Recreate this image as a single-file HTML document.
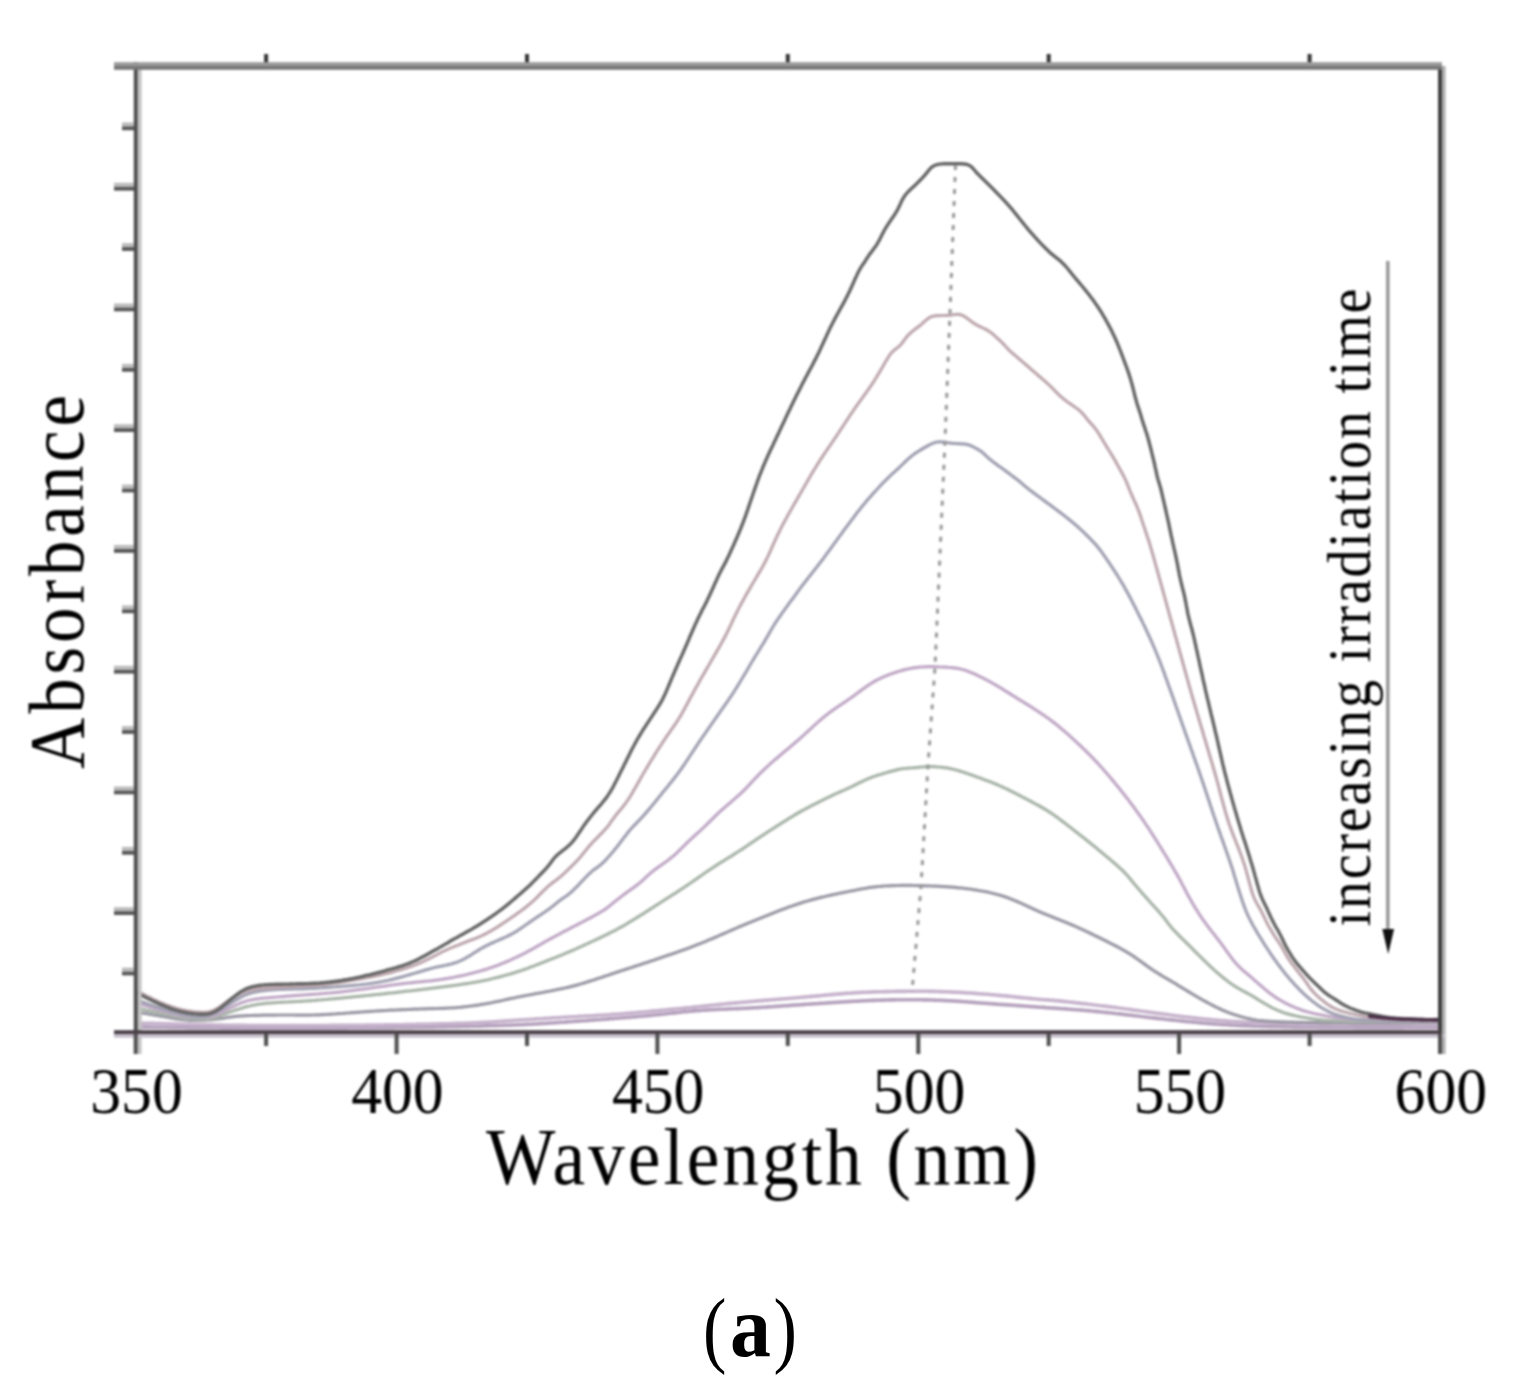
<!DOCTYPE html>
<html><head><meta charset="utf-8"><title>Absorbance spectra</title>
<style>
html,body{margin:0;padding:0;background:#fff;}
body{width:1516px;height:1394px;overflow:hidden;}
svg{display:block;}
#wrap{filter:blur(1px);}
#cap{position:absolute;left:0;top:0;}
text{font-family:"Liberation Serif","Times New Roman",serif;fill:#000;}
</style></head><body>
<div id="wrap"><svg width="1516" height="1394" viewBox="0 0 1516 1394">
<rect width="1516" height="1394" fill="#fff"/>
<path d="M138.8 1027.0 L140.0 1027.0 141.4 1027.0 143.2 1027.1 145.1 1027.1 147.0 1027.1 149.0 1027.1 151.0 1027.2 153.0 1027.2 155.0 1027.2 157.0 1027.2 159.0 1027.2 161.0 1027.3 163.0 1027.3 165.0 1027.3 167.0 1027.3 169.0 1027.4 171.0 1027.4 173.0 1027.4 175.0 1027.4 177.0 1027.5 179.0 1027.5 181.0 1027.5 183.0 1027.5 185.0 1027.5 187.0 1027.6 189.0 1027.6 191.0 1027.6 193.0 1027.6 195.0 1027.6 197.0 1027.7 199.0 1027.7 201.0 1027.7 203.0 1027.7 205.0 1027.7 207.0 1027.8 209.0 1027.8 211.0 1027.8 213.0 1027.8 215.0 1027.8 217.0 1027.8 219.0 1027.8 221.0 1027.9 223.0 1027.9 225.0 1027.9 227.0 1027.9 229.0 1027.9 231.0 1027.9 233.0 1027.9 235.0 1027.9 237.0 1028.0 239.0 1028.0 241.0 1028.0 243.0 1028.0 245.0 1028.0 247.0 1028.0 249.0 1028.0 251.0 1028.0 253.0 1028.0 255.0 1028.0 257.0 1028.0 259.0 1028.0 261.0 1028.0 263.0 1028.0 265.0 1028.0 267.0 1028.0 269.0 1028.0 271.0 1028.0 273.0 1028.0 275.0 1028.0 277.0 1028.0 279.0 1028.0 281.0 1028.0 283.0 1028.0 285.0 1028.0 287.0 1028.0 289.0 1028.0 291.0 1028.0 293.0 1028.0 295.0 1028.0 297.0 1028.0 299.0 1028.0 301.0 1028.0 303.0 1028.0 305.0 1028.0 307.0 1028.0 309.0 1028.0 311.0 1028.0 313.0 1028.0 315.0 1028.0 317.0 1028.0 319.0 1028.0 321.0 1028.0 323.0 1027.9 325.0 1027.9 327.0 1027.9 329.0 1027.9 331.0 1027.9 333.0 1027.9 335.0 1027.9 337.0 1027.9 339.0 1027.9 341.0 1027.9 343.0 1027.9 345.0 1027.9 347.0 1027.9 349.0 1027.8 351.0 1027.8 353.0 1027.8 355.0 1027.8 357.0 1027.8 359.0 1027.8 361.0 1027.8 363.0 1027.8 365.0 1027.8 367.0 1027.8 369.0 1027.7 371.0 1027.7 373.0 1027.7 375.0 1027.7 377.0 1027.7 379.0 1027.7 381.0 1027.7 383.0 1027.6 385.0 1027.6 387.0 1027.6 389.0 1027.6 391.0 1027.6 393.0 1027.6 395.0 1027.5 397.0 1027.5 399.0 1027.5 401.0 1027.5 403.0 1027.5 405.0 1027.4 407.0 1027.4 409.0 1027.4 411.0 1027.4 413.0 1027.4 415.0 1027.3 417.0 1027.3 419.0 1027.3 421.0 1027.3 423.0 1027.2 425.0 1027.2 427.0 1027.2 429.0 1027.1 431.0 1027.1 433.0 1027.1 435.0 1027.0 437.0 1027.0 439.0 1027.0 441.0 1026.9 443.0 1026.9 445.0 1026.9 447.0 1026.8 449.0 1026.8 451.0 1026.8 453.0 1026.7 455.0 1026.7 457.0 1026.6 459.0 1026.6 461.0 1026.5 463.0 1026.5 465.0 1026.5 467.0 1026.4 469.0 1026.4 471.0 1026.3 473.0 1026.3 475.0 1026.2 477.0 1026.2 479.0 1026.1 481.0 1026.1 483.0 1026.0 485.0 1025.9 487.0 1025.9 489.0 1025.8 491.0 1025.8 493.0 1025.7 495.0 1025.7 497.0 1025.6 499.0 1025.5 501.0 1025.5 503.0 1025.4 505.0 1025.3 507.0 1025.3 509.0 1025.2 511.0 1025.1 513.0 1025.0 515.0 1025.0 517.0 1024.9 519.0 1024.8 521.0 1024.7 523.0 1024.6 525.0 1024.5 526.9 1024.4 528.9 1024.3 530.9 1024.2 532.9 1024.1 534.9 1024.0 536.9 1023.9 538.9 1023.7 540.9 1023.6 542.9 1023.5 544.9 1023.4 546.9 1023.2 548.9 1023.1 550.9 1023.0 552.9 1022.9 554.9 1022.7 556.9 1022.6 558.9 1022.5 560.9 1022.3 562.9 1022.2 564.9 1022.1 566.9 1021.9 568.9 1021.8 570.9 1021.7 572.9 1021.5 574.9 1021.4 576.8 1021.3 578.8 1021.1 580.8 1021.0 582.8 1020.8 584.8 1020.7 586.8 1020.6 588.8 1020.4 590.8 1020.3 592.8 1020.1 594.8 1020.0 596.8 1019.8 598.8 1019.7 600.8 1019.5 602.8 1019.4 604.8 1019.2 606.8 1019.1 608.8 1018.9 610.8 1018.8 612.8 1018.6 614.7 1018.5 616.7 1018.3 618.7 1018.2 620.7 1018.0 622.7 1017.8 624.7 1017.7 626.7 1017.5 628.7 1017.4 630.7 1017.2 632.7 1017.0 634.7 1016.9 636.7 1016.7 638.7 1016.5 640.7 1016.3 642.7 1016.2 644.6 1016.0 646.6 1015.8 648.6 1015.6 650.6 1015.4 652.6 1015.2 654.6 1015.0 656.6 1014.8 658.6 1014.6 660.6 1014.4 662.6 1014.2 664.5 1014.0 666.5 1013.7 668.5 1013.5 670.5 1013.3 672.5 1013.1 674.5 1012.9 676.5 1012.7 678.5 1012.5 680.4 1012.3 682.4 1012.0 684.4 1011.8 686.4 1011.7 688.4 1011.5 690.4 1011.3 692.4 1011.1 694.4 1010.9 696.4 1010.8 698.4 1010.6 700.4 1010.5 702.4 1010.3 704.4 1010.2 706.4 1010.1 708.4 1010.0 710.3 1009.8 712.3 1009.7 714.3 1009.6 716.3 1009.5 718.3 1009.4 720.3 1009.3 722.3 1009.2 724.3 1009.2 726.3 1009.1 728.3 1009.0 730.3 1008.9 732.3 1008.8 734.3 1008.7 736.3 1008.6 738.3 1008.6 740.3 1008.5 742.3 1008.4 744.3 1008.3 746.3 1008.2 748.3 1008.1 750.3 1008.0 752.3 1007.9 754.3 1007.8 756.3 1007.7 758.3 1007.6 760.3 1007.5 762.3 1007.3 764.3 1007.2 766.3 1007.1 768.3 1006.9 770.3 1006.8 772.3 1006.7 774.3 1006.5 776.3 1006.4 778.3 1006.3 780.2 1006.1 782.2 1006.0 784.2 1005.8 786.2 1005.7 788.2 1005.6 790.2 1005.4 792.2 1005.3 794.2 1005.1 796.2 1005.0 798.2 1004.9 800.2 1004.7 802.2 1004.6 804.2 1004.4 806.2 1004.3 808.2 1004.2 810.2 1004.0 812.2 1003.9 814.2 1003.8 816.2 1003.7 818.2 1003.5 820.2 1003.4 822.1 1003.3 824.1 1003.2 826.1 1003.0 828.1 1002.9 830.1 1002.8 832.1 1002.6 834.1 1002.5 836.1 1002.4 838.1 1002.3 840.1 1002.1 842.1 1002.0 844.1 1001.9 846.1 1001.8 848.1 1001.6 850.1 1001.5 852.1 1001.4 854.1 1001.3 856.1 1001.2 858.1 1001.1 860.1 1001.0 862.1 1000.9 864.1 1000.8 866.1 1000.7 868.1 1000.6 870.1 1000.5 872.1 1000.4 874.1 1000.4 876.1 1000.3 878.1 1000.2 880.1 1000.2 882.1 1000.1 884.1 1000.1 886.1 1000.0 888.1 1000.0 890.1 999.9 892.1 999.9 894.1 999.9 896.1 999.8 898.1 999.8 900.1 999.8 902.1 999.8 904.1 999.8 906.1 999.8 908.1 999.7 910.1 999.7 912.1 999.8 914.1 999.8 916.1 999.8 918.1 999.8 920.1 999.8 922.1 999.8 924.1 999.9 926.1 999.9 928.1 999.9 930.1 1000.0 932.1 1000.0 934.1 1000.1 936.1 1000.2 938.1 1000.2 940.1 1000.3 942.0 1000.4 944.0 1000.5 946.0 1000.6 948.0 1000.7 950.0 1000.8 952.0 1000.9 954.0 1001.0 956.0 1001.1 958.0 1001.3 960.0 1001.4 962.0 1001.5 964.0 1001.7 966.0 1001.8 968.0 1002.0 970.0 1002.1 972.0 1002.2 974.0 1002.4 976.0 1002.6 978.0 1002.7 980.0 1002.9 982.0 1003.0 984.0 1003.2 985.9 1003.3 987.9 1003.5 989.9 1003.6 991.9 1003.8 993.9 1003.9 995.9 1004.1 997.9 1004.2 999.9 1004.4 1001.9 1004.5 1003.9 1004.6 1005.9 1004.8 1007.9 1004.9 1009.9 1005.0 1011.9 1005.2 1013.9 1005.3 1015.9 1005.5 1017.9 1005.6 1019.9 1005.8 1021.9 1005.9 1023.8 1006.0 1025.8 1006.2 1027.8 1006.3 1029.8 1006.5 1031.8 1006.6 1033.8 1006.8 1035.8 1006.9 1037.8 1007.0 1039.8 1007.2 1041.8 1007.3 1043.8 1007.4 1045.8 1007.6 1047.8 1007.7 1049.8 1007.9 1051.8 1008.0 1053.8 1008.1 1055.8 1008.3 1057.8 1008.4 1059.8 1008.5 1061.8 1008.7 1063.8 1008.8 1065.7 1008.9 1067.7 1009.1 1069.7 1009.2 1071.7 1009.4 1073.7 1009.5 1075.7 1009.7 1077.7 1009.8 1079.7 1010.0 1081.7 1010.1 1083.7 1010.3 1085.7 1010.5 1087.7 1010.6 1089.7 1010.8 1091.7 1011.0 1093.7 1011.2 1095.6 1011.4 1097.6 1011.6 1099.6 1011.8 1101.6 1012.0 1103.6 1012.2 1105.6 1012.4 1107.6 1012.6 1109.6 1012.8 1111.6 1013.0 1113.6 1013.2 1115.5 1013.5 1117.5 1013.7 1119.5 1013.9 1121.5 1014.1 1123.5 1014.4 1125.5 1014.6 1127.5 1014.9 1129.4 1015.1 1131.4 1015.3 1133.4 1015.6 1135.4 1015.8 1137.4 1016.0 1139.4 1016.3 1141.4 1016.5 1143.3 1016.8 1145.3 1017.0 1147.3 1017.2 1149.3 1017.5 1151.3 1017.7 1153.3 1017.9 1155.3 1018.1 1157.3 1018.4 1159.2 1018.6 1161.2 1018.8 1163.2 1019.0 1165.2 1019.2 1167.2 1019.5 1169.2 1019.7 1171.2 1019.9 1173.2 1020.1 1175.1 1020.3 1177.1 1020.5 1179.1 1020.7 1181.1 1020.9 1183.1 1021.1 1185.1 1021.4 1187.1 1021.6 1189.1 1021.8 1191.1 1022.0 1193.1 1022.1 1195.0 1022.3 1197.0 1022.5 1199.0 1022.7 1201.0 1022.9 1203.0 1023.1 1205.0 1023.2 1207.0 1023.4 1209.0 1023.6 1211.0 1023.7 1213.0 1023.9 1215.0 1024.0 1217.0 1024.2 1219.0 1024.3 1221.0 1024.5 1223.0 1024.6 1224.9 1024.7 1226.9 1024.8 1228.9 1025.0 1230.9 1025.1 1232.9 1025.2 1234.9 1025.3 1236.9 1025.4 1238.9 1025.5 1240.9 1025.6 1242.9 1025.7 1244.9 1025.8 1246.9 1025.9 1248.9 1025.9 1250.9 1026.0 1252.9 1026.1 1254.9 1026.2 1256.9 1026.2 1258.9 1026.3 1260.9 1026.4 1262.9 1026.4 1264.9 1026.5 1266.9 1026.5 1268.9 1026.6 1270.9 1026.6 1272.9 1026.7 1274.9 1026.7 1276.9 1026.8 1278.9 1026.8 1280.9 1026.8 1282.9 1026.9 1284.9 1026.9 1286.9 1027.0 1288.9 1027.0 1290.9 1027.0 1292.9 1027.1 1294.9 1027.1 1296.9 1027.1 1298.9 1027.1 1300.9 1027.2 1302.9 1027.2 1304.9 1027.2 1306.9 1027.2 1308.9 1027.3 1310.9 1027.3 1312.9 1027.3 1314.9 1027.3 1316.9 1027.3 1318.9 1027.4 1320.9 1027.4 1322.9 1027.4 1324.9 1027.4 1326.9 1027.4 1328.9 1027.4 1330.9 1027.4 1332.9 1027.5 1334.9 1027.5 1336.9 1027.5 1338.9 1027.5 1340.9 1027.5 1342.9 1027.5 1344.9 1027.5 1346.9 1027.5 1348.9 1027.5 1350.9 1027.5 1352.9 1027.5 1354.9 1027.6 1356.9 1027.6 1358.9 1027.6 1360.9 1027.6 1362.9 1027.6 1364.9 1027.6 1366.9 1027.6 1368.9 1027.6 1370.9 1027.6 1372.9 1027.6 1374.9 1027.6 1376.9 1027.6 1378.9 1027.6 1380.9 1027.6 1382.9 1027.6 1384.9 1027.6 1386.9 1027.6 1388.9 1027.6 1390.9 1027.6 1392.9 1027.6 1394.9 1027.6 1396.9 1027.6 1398.9 1027.6 1400.9 1027.6 1402.9 1027.6 1404.9 1027.5 1406.9 1027.5 1408.9 1027.5 1410.9 1027.5 1412.9 1027.5 1414.9 1027.5 1416.9 1027.5 1418.9 1027.5 1420.9 1027.5 1422.9 1027.5 1424.9 1027.5 1426.9 1027.5 1428.9 1027.5 1430.8 1027.5 1432.7 1027.5 1434.4 1027.5 1435.9 1027.5 1437.1 1027.5" fill="none" stroke="#b4a0bc" stroke-width="3.6" stroke-linejoin="round" stroke-linecap="round"/>
<path d="M138.8 1023.0 L140.0 1023.1 141.4 1023.1 143.2 1023.2 145.1 1023.2 147.0 1023.3 149.0 1023.3 151.0 1023.4 153.0 1023.4 155.0 1023.5 157.0 1023.5 159.0 1023.6 161.0 1023.6 163.0 1023.7 165.0 1023.7 167.0 1023.8 169.0 1023.8 171.0 1023.9 173.0 1024.0 175.0 1024.0 177.0 1024.1 179.0 1024.1 181.0 1024.2 183.0 1024.2 185.0 1024.3 187.0 1024.3 189.0 1024.4 191.0 1024.4 193.0 1024.5 195.0 1024.5 197.0 1024.6 199.0 1024.6 201.0 1024.7 203.0 1024.7 205.0 1024.8 207.0 1024.8 209.0 1024.8 211.0 1024.9 213.0 1024.9 215.0 1025.0 217.0 1025.0 219.0 1025.0 221.0 1025.1 223.0 1025.1 225.0 1025.2 227.0 1025.2 229.0 1025.2 231.0 1025.3 233.0 1025.3 235.0 1025.3 237.0 1025.3 239.0 1025.4 241.0 1025.4 243.0 1025.4 245.0 1025.4 247.0 1025.5 249.0 1025.5 251.0 1025.5 253.0 1025.5 255.0 1025.5 257.0 1025.5 259.0 1025.6 261.0 1025.6 263.0 1025.6 265.0 1025.6 267.0 1025.6 269.0 1025.6 271.0 1025.6 273.0 1025.6 275.0 1025.6 277.0 1025.6 279.0 1025.6 281.0 1025.6 283.0 1025.6 285.0 1025.6 287.0 1025.6 289.0 1025.6 291.0 1025.6 293.0 1025.6 295.0 1025.6 297.0 1025.6 299.0 1025.6 301.0 1025.6 303.0 1025.6 305.0 1025.6 307.0 1025.6 309.0 1025.6 311.0 1025.6 313.0 1025.5 315.0 1025.5 317.0 1025.5 319.0 1025.5 321.0 1025.5 323.0 1025.5 325.0 1025.5 327.0 1025.5 329.0 1025.5 331.0 1025.4 333.0 1025.4 335.0 1025.4 337.0 1025.4 339.0 1025.4 341.0 1025.4 343.0 1025.4 345.0 1025.3 347.0 1025.3 349.0 1025.3 351.0 1025.3 353.0 1025.3 355.0 1025.3 357.0 1025.2 359.0 1025.2 361.0 1025.2 363.0 1025.2 365.0 1025.2 367.0 1025.1 369.0 1025.1 371.0 1025.1 373.0 1025.1 375.0 1025.1 377.0 1025.0 379.0 1025.0 381.0 1025.0 383.0 1025.0 385.0 1024.9 387.0 1024.9 389.0 1024.9 391.0 1024.9 393.0 1024.8 395.0 1024.8 397.0 1024.8 399.0 1024.7 401.0 1024.7 403.0 1024.7 405.0 1024.6 407.0 1024.6 409.0 1024.6 411.0 1024.5 413.0 1024.5 415.0 1024.5 417.0 1024.4 419.0 1024.4 421.0 1024.4 423.0 1024.3 425.0 1024.3 427.0 1024.2 429.0 1024.2 431.0 1024.1 433.0 1024.1 435.0 1024.0 437.0 1024.0 439.0 1023.9 441.0 1023.9 443.0 1023.8 445.0 1023.8 447.0 1023.7 449.0 1023.7 451.0 1023.6 453.0 1023.6 455.0 1023.5 457.0 1023.4 458.9 1023.4 460.9 1023.3 462.9 1023.2 464.9 1023.2 466.9 1023.1 468.9 1023.0 470.9 1023.0 472.9 1022.9 474.9 1022.8 476.9 1022.7 478.9 1022.6 480.9 1022.5 482.9 1022.4 484.9 1022.3 486.9 1022.2 488.9 1022.1 490.9 1022.0 492.9 1021.9 494.9 1021.7 496.9 1021.6 498.9 1021.5 500.9 1021.3 502.9 1021.2 504.9 1021.0 506.9 1020.9 508.9 1020.8 510.9 1020.6 512.9 1020.5 514.9 1020.3 516.9 1020.2 518.9 1020.1 520.8 1020.0 522.8 1019.8 524.8 1019.7 526.8 1019.6 528.8 1019.5 530.8 1019.3 532.8 1019.2 534.8 1019.1 536.8 1018.9 538.8 1018.8 540.8 1018.7 542.8 1018.6 544.8 1018.4 546.8 1018.3 548.8 1018.2 550.8 1018.1 552.8 1017.9 554.8 1017.8 556.8 1017.7 558.8 1017.6 560.8 1017.5 562.8 1017.3 564.8 1017.2 566.8 1017.1 568.8 1017.0 570.8 1016.9 572.8 1016.8 574.7 1016.7 576.7 1016.6 578.7 1016.4 580.7 1016.3 582.7 1016.2 584.7 1016.1 586.7 1016.0 588.7 1015.9 590.7 1015.8 592.7 1015.7 594.7 1015.6 596.7 1015.4 598.7 1015.3 600.7 1015.2 602.7 1015.1 604.7 1015.0 606.7 1014.8 608.7 1014.7 610.7 1014.6 612.7 1014.4 614.7 1014.3 616.7 1014.2 618.7 1014.0 620.7 1013.9 622.7 1013.7 624.7 1013.6 626.6 1013.4 628.6 1013.2 630.6 1013.1 632.6 1012.9 634.6 1012.7 636.6 1012.6 638.6 1012.4 640.6 1012.2 642.6 1012.0 644.6 1011.9 646.6 1011.7 648.6 1011.5 650.6 1011.3 652.5 1011.1 654.5 1010.9 656.5 1010.7 658.5 1010.6 660.5 1010.4 662.5 1010.2 664.5 1010.0 666.5 1009.8 668.5 1009.6 670.5 1009.4 672.5 1009.2 674.4 1009.0 676.4 1008.8 678.4 1008.7 680.4 1008.5 682.4 1008.3 684.4 1008.1 686.4 1007.9 688.4 1007.7 690.4 1007.5 692.4 1007.3 694.3 1007.1 696.3 1006.9 698.3 1006.7 700.3 1006.5 702.3 1006.3 704.3 1006.1 706.3 1005.9 708.3 1005.7 710.3 1005.4 712.3 1005.2 714.2 1005.0 716.2 1004.8 718.2 1004.6 720.2 1004.4 722.2 1004.2 724.2 1004.0 726.2 1003.8 728.2 1003.6 730.2 1003.4 732.2 1003.3 734.1 1003.1 736.1 1002.9 738.1 1002.7 740.1 1002.5 742.1 1002.3 744.1 1002.2 746.1 1002.0 748.1 1001.8 750.1 1001.6 752.1 1001.5 754.1 1001.3 756.1 1001.1 758.1 1000.9 760.0 1000.8 762.0 1000.6 764.0 1000.4 766.0 1000.3 768.0 1000.1 770.0 1000.0 772.0 999.8 774.0 999.6 776.0 999.5 778.0 999.3 780.0 999.1 782.0 999.0 784.0 998.8 786.0 998.7 788.0 998.5 789.9 998.3 791.9 998.2 793.9 998.0 795.9 997.8 797.9 997.7 799.9 997.5 801.9 997.3 803.9 997.1 805.9 997.0 807.9 996.8 809.9 996.6 811.9 996.4 813.9 996.2 815.8 996.1 817.8 995.9 819.8 995.7 821.8 995.5 823.8 995.3 825.8 995.1 827.8 995.0 829.8 994.8 831.8 994.6 833.8 994.4 835.8 994.3 837.8 994.1 839.8 993.9 841.7 993.8 843.7 993.6 845.7 993.4 847.7 993.3 849.7 993.2 851.7 993.0 853.7 992.9 855.7 992.8 857.7 992.6 859.7 992.5 861.7 992.4 863.7 992.3 865.7 992.2 867.7 992.2 869.7 992.1 871.7 992.0 873.7 991.9 875.7 991.9 877.7 991.8 879.7 991.8 881.7 991.7 883.7 991.7 885.7 991.6 887.7 991.6 889.7 991.5 891.7 991.5 893.7 991.5 895.7 991.4 897.7 991.4 899.7 991.4 901.7 991.4 903.7 991.4 905.7 991.4 907.7 991.3 909.7 991.3 911.7 991.3 913.7 991.3 915.7 991.3 917.7 991.3 919.7 991.3 921.7 991.3 923.7 991.3 925.7 991.3 927.7 991.3 929.7 991.4 931.7 991.4 933.7 991.4 935.7 991.5 937.7 991.5 939.7 991.6 941.7 991.6 943.7 991.7 945.7 991.8 947.7 991.8 949.7 991.9 951.7 992.0 953.7 992.1 955.7 992.2 957.7 992.3 959.7 992.4 961.7 992.5 963.7 992.6 965.7 992.7 967.6 992.9 969.6 993.0 971.6 993.1 973.6 993.3 975.6 993.4 977.6 993.6 979.6 993.7 981.6 993.9 983.6 994.0 985.6 994.2 987.6 994.3 989.6 994.5 991.6 994.7 993.6 994.8 995.6 995.0 997.6 995.2 999.5 995.4 1001.5 995.6 1003.5 995.7 1005.5 995.9 1007.5 996.1 1009.5 996.3 1011.5 996.5 1013.5 996.7 1015.5 996.9 1017.5 997.2 1019.4 997.4 1021.4 997.6 1023.4 997.8 1025.4 998.0 1027.4 998.2 1029.4 998.4 1031.4 998.6 1033.4 998.8 1035.4 999.0 1037.4 999.2 1039.3 999.4 1041.3 999.5 1043.3 999.7 1045.3 999.8 1047.3 999.9 1049.3 1000.1 1051.3 1000.2 1053.3 1000.4 1055.3 1000.6 1057.3 1000.8 1059.3 1000.9 1061.3 1001.1 1063.3 1001.4 1065.2 1001.6 1067.2 1001.8 1069.2 1002.0 1071.2 1002.2 1073.2 1002.4 1075.2 1002.7 1077.2 1002.9 1079.2 1003.1 1081.1 1003.4 1083.1 1003.6 1085.1 1003.8 1087.1 1004.0 1089.1 1004.3 1091.1 1004.5 1093.1 1004.7 1095.1 1005.0 1097.0 1005.2 1099.0 1005.5 1101.0 1005.7 1103.0 1005.9 1105.0 1006.2 1107.0 1006.4 1108.9 1006.7 1110.9 1006.9 1112.9 1007.2 1114.9 1007.4 1116.9 1007.7 1118.9 1008.0 1120.8 1008.2 1122.8 1008.5 1124.8 1008.8 1126.8 1009.0 1128.8 1009.3 1130.8 1009.6 1132.7 1009.9 1134.7 1010.2 1136.7 1010.4 1138.7 1010.7 1140.7 1011.0 1142.6 1011.3 1144.6 1011.5 1146.6 1011.8 1148.6 1012.1 1150.6 1012.4 1152.5 1012.6 1154.5 1012.9 1156.5 1013.2 1158.5 1013.4 1160.5 1013.7 1162.5 1013.9 1164.4 1014.2 1166.4 1014.4 1168.4 1014.7 1170.4 1015.0 1172.4 1015.2 1174.4 1015.5 1176.3 1015.7 1178.3 1016.0 1180.3 1016.2 1182.3 1016.5 1184.3 1016.7 1186.3 1017.0 1188.3 1017.2 1190.2 1017.4 1192.2 1017.7 1194.2 1017.9 1196.2 1018.1 1198.2 1018.4 1200.2 1018.6 1202.2 1018.8 1204.2 1019.0 1206.1 1019.2 1208.1 1019.4 1210.1 1019.6 1212.1 1019.8 1214.1 1020.0 1216.1 1020.1 1218.1 1020.3 1220.1 1020.5 1222.1 1020.6 1224.1 1020.8 1226.1 1020.9 1228.1 1021.1 1230.1 1021.2 1232.0 1021.4 1234.0 1021.5 1236.0 1021.6 1238.0 1021.8 1240.0 1021.9 1242.0 1022.0 1244.0 1022.1 1246.0 1022.2 1248.0 1022.3 1250.0 1022.4 1252.0 1022.5 1254.0 1022.6 1256.0 1022.6 1258.0 1022.7 1260.0 1022.8 1262.0 1022.9 1264.0 1022.9 1266.0 1023.0 1268.0 1023.1 1270.0 1023.1 1272.0 1023.2 1274.0 1023.2 1276.0 1023.3 1278.0 1023.3 1280.0 1023.4 1282.0 1023.4 1284.0 1023.4 1286.0 1023.5 1288.0 1023.5 1290.0 1023.5 1292.0 1023.6 1294.0 1023.6 1296.0 1023.6 1298.0 1023.7 1300.0 1023.7 1302.0 1023.7 1304.0 1023.7 1306.0 1023.8 1308.0 1023.8 1310.0 1023.8 1312.0 1023.8 1314.0 1023.8 1316.0 1023.8 1318.0 1023.9 1320.0 1023.9 1322.0 1023.9 1324.0 1023.9 1326.0 1023.9 1328.0 1023.9 1330.0 1023.9 1332.0 1024.0 1334.0 1024.0 1336.0 1024.0 1338.0 1024.0 1340.0 1024.0 1342.0 1024.0 1344.0 1024.0 1346.0 1024.0 1348.0 1024.0 1350.0 1024.0 1352.0 1024.0 1354.0 1024.1 1356.0 1024.1 1358.0 1024.1 1360.0 1024.1 1362.0 1024.1 1364.0 1024.1 1366.0 1024.1 1368.0 1024.1 1370.0 1024.1 1372.0 1024.1 1374.0 1024.1 1376.0 1024.1 1378.0 1024.1 1380.0 1024.1 1382.0 1024.1 1384.0 1024.1 1386.0 1024.1 1388.0 1024.1 1390.0 1024.1 1392.0 1024.1 1394.0 1024.1 1396.0 1024.1 1398.0 1024.1 1400.0 1024.1 1402.0 1024.1 1404.0 1024.0 1406.0 1024.0 1408.0 1024.0 1410.0 1024.0 1412.0 1024.0 1414.0 1024.0 1416.0 1024.0 1418.0 1024.0 1420.0 1024.0 1422.0 1024.0 1424.0 1024.0 1426.0 1024.0 1428.0 1024.0 1430.0 1024.0 1431.9 1024.0 1433.7 1024.0 1435.3 1024.0 1436.7 1024.0 1437.2 1024.0" fill="none" stroke="#c6b2cc" stroke-width="3.6" stroke-linejoin="round" stroke-linecap="round"/>
<path d="M138.8 1012.3 L139.9 1012.5 141.4 1012.8 143.1 1013.1 144.9 1013.4 146.9 1013.7 148.8 1014.1 150.8 1014.4 152.8 1014.8 154.7 1015.1 156.7 1015.4 158.7 1015.8 160.6 1016.1 162.6 1016.5 164.6 1016.8 166.5 1017.2 168.5 1017.5 170.5 1017.9 172.5 1018.2 174.4 1018.6 176.4 1018.9 178.4 1019.2 180.4 1019.4 182.3 1019.7 184.3 1019.9 186.3 1020.0 188.3 1020.2 190.3 1020.3 192.3 1020.4 194.3 1020.4 196.3 1020.4 198.3 1020.4 200.3 1020.4 202.3 1020.4 204.3 1020.3 206.3 1020.2 208.3 1020.0 210.3 1019.9 212.3 1019.7 214.3 1019.5 216.3 1019.2 218.2 1019.0 220.2 1018.7 222.2 1018.4 224.2 1018.1 226.1 1017.7 228.1 1017.4 230.1 1017.2 232.1 1016.9 234.1 1016.6 236.0 1016.4 238.0 1016.2 240.0 1016.1 242.0 1015.9 244.0 1015.8 246.0 1015.7 248.0 1015.6 250.0 1015.5 252.0 1015.5 254.0 1015.4 256.0 1015.3 258.0 1015.3 260.0 1015.3 262.0 1015.2 264.0 1015.2 266.0 1015.2 268.0 1015.1 270.0 1015.1 272.0 1015.1 274.0 1015.1 276.0 1015.1 278.0 1015.0 280.0 1015.0 282.0 1015.0 284.0 1015.0 286.0 1015.0 288.0 1015.0 290.0 1015.0 292.0 1015.0 294.0 1015.0 296.0 1015.1 298.0 1015.1 300.0 1015.1 302.0 1015.1 304.0 1015.1 306.0 1015.1 308.0 1015.1 310.0 1015.1 312.0 1015.0 314.0 1015.0 316.0 1014.9 318.0 1014.9 320.0 1014.8 322.0 1014.7 324.0 1014.6 326.0 1014.5 328.0 1014.4 330.0 1014.3 332.0 1014.1 334.0 1014.0 336.0 1013.9 338.0 1013.7 340.0 1013.6 342.0 1013.5 344.0 1013.3 345.9 1013.2 347.9 1013.0 349.9 1012.9 351.9 1012.7 353.9 1012.6 355.9 1012.4 357.9 1012.3 359.9 1012.1 361.9 1012.0 363.9 1011.8 365.9 1011.7 367.9 1011.6 369.9 1011.4 371.9 1011.3 373.9 1011.2 375.9 1011.0 377.9 1010.9 379.9 1010.8 381.9 1010.7 383.9 1010.6 385.9 1010.5 387.9 1010.3 389.8 1010.2 391.8 1010.2 393.8 1010.1 395.8 1010.0 397.8 1009.9 399.8 1009.8 401.8 1009.7 403.8 1009.6 405.8 1009.6 407.8 1009.5 409.8 1009.4 411.8 1009.3 413.8 1009.2 415.8 1009.2 417.8 1009.1 419.8 1009.0 421.8 1008.9 423.8 1008.9 425.8 1008.8 427.8 1008.7 429.8 1008.7 431.8 1008.6 433.8 1008.6 435.8 1008.5 437.8 1008.5 439.8 1008.4 441.8 1008.3 443.8 1008.3 445.8 1008.2 447.8 1008.1 449.8 1008.0 451.8 1007.9 453.8 1007.8 455.8 1007.7 457.8 1007.5 459.8 1007.3 461.8 1007.2 463.8 1006.9 465.7 1006.7 467.7 1006.5 469.7 1006.2 471.7 1006.0 473.7 1005.7 475.7 1005.4 477.6 1005.1 479.6 1004.8 481.6 1004.4 483.6 1004.1 485.5 1003.8 487.5 1003.4 489.5 1003.1 491.4 1002.7 493.4 1002.3 495.4 1001.9 497.3 1001.5 499.3 1001.1 501.2 1000.7 503.2 1000.3 505.1 999.8 507.1 999.4 509.0 998.9 511.0 998.5 512.9 998.1 514.9 997.7 516.8 997.2 518.8 996.8 520.8 996.5 522.7 996.1 524.7 995.7 526.7 995.3 528.6 995.0 530.6 994.6 532.6 994.3 534.5 993.9 536.5 993.5 538.5 993.2 540.4 992.8 542.4 992.5 544.4 992.1 546.3 991.7 548.3 991.3 550.3 991.0 552.2 990.6 554.2 990.2 556.1 989.8 558.1 989.4 560.1 989.0 562.0 988.6 564.0 988.2 565.9 987.8 567.9 987.4 569.8 986.9 571.8 986.4 573.7 985.9 575.6 985.4 577.6 984.9 579.5 984.3 581.4 983.8 583.3 983.2 585.2 982.6 587.1 982.0 589.1 981.4 591.0 980.8 592.9 980.2 594.8 979.6 596.7 978.9 598.6 978.3 600.5 977.7 602.4 977.1 604.3 976.4 606.2 975.8 608.1 975.2 610.0 974.5 611.9 973.9 613.8 973.3 615.6 972.6 617.5 972.0 619.4 971.4 621.3 970.8 623.3 970.1 625.2 969.5 627.1 968.9 629.0 968.3 630.9 967.7 632.8 967.0 634.7 966.4 636.6 965.8 638.5 965.2 640.4 964.6 642.3 963.9 644.2 963.3 646.1 962.7 648.0 962.1 649.9 961.4 651.8 960.8 653.7 960.2 655.5 959.5 657.4 958.9 659.3 958.2 661.2 957.6 663.1 956.9 665.0 956.3 666.9 955.6 668.8 955.0 670.7 954.4 672.6 953.7 674.5 953.1 676.4 952.4 678.3 951.7 680.1 951.1 682.0 950.4 683.9 949.7 685.8 949.1 687.7 948.4 689.5 947.7 691.4 947.0 693.3 946.3 695.2 945.6 697.0 944.8 698.9 944.1 700.7 943.4 702.6 942.6 704.5 941.9 706.3 941.1 708.1 940.3 710.0 939.6 711.8 938.8 713.7 938.0 715.5 937.2 717.3 936.4 719.2 935.6 721.0 934.8 722.8 934.0 724.7 933.2 726.5 932.4 728.3 931.6 730.2 930.8 732.0 930.0 733.8 929.2 735.7 928.4 737.5 927.6 739.3 926.8 741.2 926.0 743.0 925.3 744.9 924.5 746.7 923.7 748.6 922.9 750.4 922.2 752.3 921.4 754.1 920.7 756.0 919.9 757.8 919.2 759.7 918.4 761.5 917.7 763.4 916.9 765.2 916.2 767.1 915.5 769.0 914.7 770.8 914.0 772.7 913.2 774.5 912.5 776.4 911.8 778.3 911.0 780.1 910.3 782.0 909.6 783.9 908.9 785.7 908.2 787.6 907.5 789.5 906.8 791.4 906.2 793.3 905.5 795.2 904.9 797.1 904.2 799.0 903.6 800.9 903.0 802.8 902.4 804.7 901.8 806.6 901.2 808.5 900.7 810.4 900.1 812.4 899.6 814.3 899.1 816.2 898.6 818.2 898.1 820.1 897.6 822.1 897.1 824.0 896.7 826.0 896.2 827.9 895.8 829.9 895.4 831.8 894.9 833.8 894.5 835.7 894.1 837.7 893.7 839.6 893.3 841.6 892.9 843.6 892.5 845.5 892.1 847.5 891.7 849.5 891.3 851.4 890.9 853.4 890.6 855.3 890.2 857.3 889.8 859.3 889.4 861.2 889.0 863.2 888.7 865.2 888.3 867.1 888.0 869.1 887.7 871.1 887.4 873.1 887.1 875.1 886.9 877.0 886.7 879.0 886.5 881.0 886.3 883.0 886.1 885.0 886.0 887.0 885.9 889.0 885.8 891.0 885.7 893.0 885.6 895.0 885.6 897.0 885.5 899.0 885.5 901.0 885.4 903.0 885.4 905.0 885.4 907.0 885.4 909.0 885.4 911.0 885.4 913.0 885.5 915.0 885.5 917.0 885.6 919.0 885.6 921.0 885.7 923.0 885.7 925.0 885.8 927.0 885.9 929.0 885.9 931.0 886.0 933.0 886.1 935.0 886.2 937.0 886.2 939.0 886.3 941.0 886.4 943.0 886.6 945.0 886.7 947.0 886.8 949.0 886.9 951.0 887.1 953.0 887.2 954.9 887.4 956.9 887.6 958.9 887.8 960.9 888.0 962.9 888.2 964.9 888.5 966.9 888.7 968.9 889.0 970.8 889.2 972.8 889.5 974.8 889.8 976.8 890.1 978.7 890.5 980.7 890.8 982.7 891.2 984.6 891.5 986.6 891.9 988.6 892.3 990.5 892.8 992.5 893.2 994.4 893.7 996.3 894.2 998.3 894.7 1000.2 895.3 1002.1 895.9 1004.0 896.5 1005.9 897.1 1007.8 897.8 1009.7 898.5 1011.5 899.2 1013.4 899.9 1015.2 900.7 1017.1 901.5 1018.9 902.3 1020.7 903.1 1022.5 903.9 1024.4 904.8 1026.2 905.6 1028.0 906.5 1029.8 907.3 1031.6 908.1 1033.4 909.0 1035.2 909.8 1037.1 910.6 1038.9 911.5 1040.7 912.3 1042.6 913.1 1044.4 913.8 1046.2 914.6 1048.1 915.3 1050.0 916.1 1051.8 916.8 1053.7 917.5 1055.6 918.3 1057.4 919.0 1059.3 919.7 1061.2 920.4 1063.0 921.2 1064.9 921.9 1066.7 922.7 1068.6 923.4 1070.4 924.2 1072.2 925.0 1074.1 925.8 1075.9 926.6 1077.7 927.4 1079.5 928.3 1081.4 929.1 1083.2 929.9 1085.0 930.8 1086.8 931.6 1088.6 932.5 1090.4 933.3 1092.2 934.2 1094.0 935.1 1095.8 936.0 1097.6 936.8 1099.4 937.7 1101.2 938.6 1103.0 939.5 1104.8 940.4 1106.6 941.3 1108.4 942.2 1110.1 943.1 1111.9 944.0 1113.7 944.9 1115.5 945.8 1117.3 946.7 1119.0 947.7 1120.8 948.6 1122.5 949.6 1124.3 950.6 1126.0 951.6 1127.7 952.6 1129.4 953.7 1131.1 954.7 1132.8 955.8 1134.4 956.9 1136.1 958.1 1137.7 959.2 1139.3 960.4 1141.0 961.6 1142.6 962.7 1144.2 963.9 1145.8 965.1 1147.4 966.3 1149.1 967.4 1150.7 968.6 1152.4 969.7 1154.0 970.8 1155.7 971.9 1157.4 972.9 1159.1 974.0 1160.8 975.0 1162.5 976.1 1164.2 977.1 1166.0 978.1 1167.7 979.1 1169.4 980.2 1171.1 981.2 1172.8 982.2 1174.6 983.2 1176.3 984.2 1178.0 985.3 1179.7 986.3 1181.4 987.3 1183.1 988.4 1184.8 989.4 1186.5 990.5 1188.2 991.5 1190.0 992.5 1191.7 993.6 1193.4 994.6 1195.1 995.6 1196.8 996.6 1198.6 997.6 1200.3 998.6 1202.0 999.6 1203.8 1000.6 1205.5 1001.5 1207.3 1002.5 1209.1 1003.4 1210.8 1004.4 1212.6 1005.3 1214.4 1006.2 1216.2 1007.1 1218.0 1008.0 1219.8 1008.8 1221.6 1009.7 1223.4 1010.5 1225.3 1011.3 1227.1 1012.0 1229.0 1012.7 1230.9 1013.4 1232.7 1014.1 1234.6 1014.7 1236.5 1015.3 1238.4 1015.9 1240.4 1016.5 1242.3 1017.0 1244.2 1017.5 1246.2 1018.0 1248.1 1018.4 1250.1 1018.9 1252.0 1019.3 1254.0 1019.6 1256.0 1020.0 1257.9 1020.3 1259.9 1020.5 1261.9 1020.7 1263.9 1020.9 1265.9 1021.1 1267.9 1021.2 1269.9 1021.3 1271.9 1021.4 1273.9 1021.5 1275.9 1021.6 1277.9 1021.7 1279.9 1021.8 1281.9 1021.9 1283.9 1021.9 1285.9 1022.0 1287.9 1022.1 1289.9 1022.1 1291.9 1022.2 1293.9 1022.2 1295.9 1022.3 1297.9 1022.3 1299.9 1022.4 1301.9 1022.4 1303.9 1022.5 1305.9 1022.5 1307.9 1022.6 1309.9 1022.6 1311.9 1022.6 1313.9 1022.7 1315.9 1022.7 1317.9 1022.7 1319.9 1022.8 1321.9 1022.8 1323.9 1022.8 1325.9 1022.8 1327.9 1022.9 1329.9 1022.9 1331.9 1022.9 1333.9 1022.9 1335.9 1023.0 1337.9 1023.0 1339.9 1023.0 1341.9 1023.0 1343.9 1023.0 1345.9 1023.0 1347.9 1023.0 1349.9 1023.1 1351.9 1023.1 1353.9 1023.1 1355.9 1023.1 1357.9 1023.1 1359.9 1023.1 1361.9 1023.1 1363.9 1023.1 1365.9 1023.1 1367.9 1023.1 1369.9 1023.1 1371.9 1023.1 1373.9 1023.1 1375.9 1023.1 1377.9 1023.1 1379.9 1023.1 1381.9 1023.1 1383.9 1023.1 1385.9 1023.1 1387.9 1023.1 1389.9 1023.1 1391.9 1023.1 1393.9 1023.1 1395.9 1023.1 1397.9 1023.1 1399.9 1023.1 1401.9 1023.1 1403.9 1023.1 1405.9 1023.1 1407.9 1023.1 1409.9 1023.1 1411.9 1023.1 1413.9 1023.0 1415.9 1023.0 1417.9 1023.0 1419.9 1023.0 1421.9 1023.0 1423.9 1023.0 1425.9 1023.0 1427.8 1023.0 1429.8 1023.0 1431.7 1023.0 1433.6 1023.0 1435.2 1023.0 1436.5 1023.0 1437.1 1023.0" fill="none" stroke="#9a98a4" stroke-width="3.2" stroke-linejoin="round" stroke-linecap="round"/>
<path d="M138.7 1008.4 L139.9 1008.6 141.3 1009.0 143.0 1009.3 144.9 1009.7 146.8 1010.2 148.7 1010.6 150.7 1011.0 152.6 1011.4 154.6 1011.8 156.5 1012.3 158.5 1012.7 160.4 1013.1 162.4 1013.5 164.4 1014.0 166.3 1014.4 168.3 1014.8 170.2 1015.3 172.2 1015.7 174.1 1016.1 176.1 1016.5 178.1 1016.8 180.0 1017.2 182.0 1017.5 184.0 1017.8 186.0 1018.1 187.9 1018.3 189.9 1018.5 191.9 1018.7 193.9 1018.9 195.9 1019.0 197.9 1019.2 199.9 1019.2 201.9 1019.3 203.9 1019.3 205.9 1019.2 207.9 1019.0 209.8 1018.8 211.8 1018.4 213.7 1018.0 215.6 1017.4 217.5 1016.8 219.4 1016.1 221.3 1015.4 223.1 1014.6 225.0 1013.9 226.8 1013.2 228.7 1012.5 230.6 1011.8 232.5 1011.2 234.4 1010.5 236.3 1009.9 238.2 1009.3 240.1 1008.7 242.0 1008.1 243.9 1007.5 245.8 1006.9 247.8 1006.4 249.7 1006.0 251.6 1005.5 253.6 1005.1 255.6 1004.8 257.5 1004.4 259.5 1004.1 261.5 1003.9 263.5 1003.6 265.5 1003.4 267.5 1003.2 269.5 1003.1 271.5 1002.9 273.4 1002.8 275.4 1002.6 277.4 1002.5 279.4 1002.4 281.4 1002.3 283.4 1002.2 285.4 1002.1 287.4 1002.0 289.4 1001.9 291.4 1001.8 293.4 1001.7 295.4 1001.6 297.4 1001.5 299.4 1001.4 301.4 1001.3 303.4 1001.1 305.4 1001.0 307.4 1000.9 309.4 1000.8 311.4 1000.6 313.4 1000.5 315.4 1000.4 317.4 1000.2 319.4 1000.0 321.4 999.9 323.3 999.7 325.3 999.5 327.3 999.4 329.3 999.2 331.3 999.0 333.3 998.8 335.3 998.6 337.3 998.4 339.3 998.3 341.3 998.1 343.3 997.9 345.3 997.7 347.2 997.5 349.2 997.3 351.2 997.1 353.2 996.9 355.2 996.7 357.2 996.5 359.2 996.3 361.2 996.1 363.2 995.9 365.2 995.7 367.1 995.5 369.1 995.3 371.1 995.1 373.1 994.9 375.1 994.7 377.1 994.5 379.1 994.3 381.1 994.1 383.1 993.9 385.0 993.6 387.0 993.4 389.0 993.2 391.0 993.0 393.0 992.8 395.0 992.6 397.0 992.3 399.0 992.1 401.0 991.9 402.9 991.7 404.9 991.4 406.9 991.2 408.9 991.0 410.9 990.8 412.9 990.5 414.9 990.3 416.8 990.1 418.8 989.8 420.8 989.6 422.8 989.4 424.8 989.1 426.8 988.9 428.8 988.6 430.7 988.4 432.7 988.2 434.7 987.9 436.7 987.7 438.7 987.4 440.7 987.2 442.7 986.9 444.6 986.7 446.6 986.4 448.6 986.1 450.6 985.9 452.6 985.6 454.6 985.3 456.5 985.1 458.5 984.8 460.5 984.5 462.5 984.2 464.5 983.9 466.4 983.6 468.4 983.3 470.4 983.0 472.4 982.7 474.3 982.3 476.3 982.0 478.3 981.6 480.2 981.3 482.2 980.9 484.2 980.5 486.1 980.1 488.1 979.7 490.0 979.2 492.0 978.8 493.9 978.3 495.9 977.8 497.8 977.4 499.7 976.9 501.7 976.3 503.6 975.8 505.5 975.3 507.4 974.7 509.4 974.2 511.3 973.6 513.2 973.1 515.1 972.5 517.0 971.9 518.9 971.3 520.8 970.7 522.7 970.0 524.6 969.4 526.5 968.7 528.4 968.0 530.2 967.3 532.1 966.6 534.0 965.9 535.8 965.1 537.7 964.4 539.6 963.7 541.4 963.0 543.3 962.3 545.2 961.5 547.0 960.8 548.9 960.1 550.8 959.3 552.6 958.6 554.5 957.9 556.3 957.1 558.2 956.4 560.0 955.6 561.9 954.9 563.7 954.1 565.6 953.3 567.4 952.6 569.3 951.8 571.1 951.0 572.9 950.2 574.8 949.4 576.6 948.6 578.4 947.7 580.2 946.9 582.0 946.1 583.9 945.2 585.7 944.4 587.5 943.6 589.3 942.7 591.1 941.9 593.0 941.1 594.8 940.2 596.6 939.4 598.4 938.5 600.2 937.7 602.0 936.8 603.8 936.0 605.6 935.1 607.4 934.2 609.2 933.3 611.0 932.4 612.8 931.5 614.5 930.6 616.3 929.7 618.1 928.7 619.8 927.7 621.6 926.8 623.3 925.8 625.0 924.8 626.8 923.8 628.5 922.7 630.2 921.7 631.9 920.7 633.6 919.6 635.3 918.6 637.0 917.5 638.7 916.5 640.4 915.4 642.1 914.3 643.8 913.3 645.5 912.2 647.2 911.1 648.8 910.0 650.5 909.0 652.2 907.9 653.9 906.8 655.6 905.7 657.3 904.6 658.9 903.6 660.6 902.5 662.3 901.4 664.0 900.3 665.7 899.2 667.4 898.2 669.1 897.1 670.7 896.0 672.4 894.9 674.1 893.9 675.8 892.8 677.5 891.7 679.1 890.6 680.8 889.5 682.5 888.4 684.2 887.3 685.8 886.2 687.5 885.1 689.1 884.0 690.8 882.8 692.4 881.7 694.1 880.6 695.7 879.4 697.4 878.3 699.0 877.1 700.6 876.0 702.3 874.8 703.9 873.7 705.5 872.5 707.2 871.4 708.9 870.3 710.5 869.2 712.2 868.1 713.9 867.0 715.5 865.9 717.2 864.8 718.9 863.7 720.6 862.7 722.3 861.6 724.0 860.6 725.7 859.5 727.4 858.4 729.1 857.4 730.8 856.3 732.5 855.3 734.2 854.2 735.9 853.1 737.6 852.0 739.2 851.0 740.9 849.9 742.6 848.8 744.3 847.7 745.9 846.6 747.6 845.5 749.2 844.3 750.9 843.2 752.5 842.1 754.2 841.0 755.8 839.8 757.5 838.7 759.2 837.6 760.8 836.5 762.5 835.4 764.2 834.3 765.8 833.2 767.5 832.1 769.2 831.0 770.9 829.9 772.5 828.8 774.2 827.8 775.9 826.7 777.6 825.6 779.3 824.5 781.0 823.5 782.7 822.4 784.4 821.3 786.1 820.3 787.8 819.2 789.5 818.2 791.2 817.1 792.9 816.1 794.6 815.0 796.3 814.0 798.0 813.0 799.8 812.0 801.5 811.0 803.3 810.1 805.0 809.1 806.8 808.2 808.6 807.3 810.3 806.3 812.1 805.4 813.9 804.5 815.7 803.6 817.5 802.7 819.3 801.8 821.0 800.9 822.8 800.0 824.6 799.1 826.4 798.2 828.2 797.4 830.0 796.5 831.8 795.6 833.6 794.8 835.4 793.9 837.3 793.1 839.1 792.3 840.9 791.5 842.7 790.7 844.6 789.9 846.4 789.1 848.2 788.3 850.0 787.4 851.8 786.6 853.6 785.7 855.4 784.8 857.2 783.9 859.0 783.0 860.8 782.1 862.6 781.2 864.4 780.4 866.2 779.5 868.1 778.8 869.9 778.0 871.8 777.3 873.7 776.6 875.5 776.0 877.4 775.3 879.4 774.7 881.3 774.2 883.2 773.6 885.1 773.0 887.0 772.5 888.9 771.9 890.9 771.4 892.8 770.9 894.7 770.4 896.7 769.9 898.6 769.4 900.6 769.0 902.5 768.7 904.5 768.5 906.5 768.3 908.5 768.1 910.5 768.0 912.5 767.9 914.5 767.7 916.5 767.6 918.5 767.4 920.4 767.2 922.4 767.0 924.4 766.8 926.4 766.7 928.4 766.6 930.4 766.6 932.4 766.7 934.4 766.7 936.4 766.9 938.4 767.0 940.4 767.2 942.4 767.3 944.3 767.6 946.3 767.9 948.3 768.2 950.3 768.6 952.2 769.0 954.2 769.5 956.1 770.0 958.0 770.5 959.9 771.1 961.8 771.7 963.7 772.3 965.6 772.9 967.5 773.6 969.4 774.3 971.3 774.9 973.2 775.6 975.1 776.3 976.9 776.9 978.8 777.6 980.7 778.3 982.6 779.0 984.5 779.7 986.3 780.4 988.2 781.1 990.1 781.8 991.9 782.5 993.8 783.3 995.6 784.0 997.5 784.8 999.3 785.6 1001.1 786.4 1003.0 787.2 1004.8 788.1 1006.6 788.9 1008.4 789.8 1010.2 790.7 1012.0 791.6 1013.8 792.5 1015.5 793.4 1017.3 794.3 1019.1 795.2 1020.9 796.1 1022.6 797.1 1024.4 798.0 1026.2 798.9 1027.9 799.9 1029.7 800.8 1031.5 801.7 1033.2 802.7 1035.0 803.6 1036.8 804.6 1038.5 805.5 1040.3 806.5 1042.0 807.5 1043.7 808.5 1045.5 809.5 1047.2 810.6 1048.8 811.6 1050.5 812.7 1052.2 813.8 1053.8 815.0 1055.5 816.1 1057.1 817.3 1058.7 818.5 1060.3 819.7 1061.9 820.9 1063.5 822.1 1065.1 823.3 1066.7 824.5 1068.2 825.8 1069.8 827.0 1071.4 828.2 1073.0 829.4 1074.5 830.7 1076.1 831.9 1077.7 833.1 1079.3 834.4 1080.8 835.6 1082.4 836.8 1084.0 838.1 1085.6 839.3 1087.1 840.6 1088.7 841.8 1090.2 843.1 1091.8 844.3 1093.3 845.6 1094.9 846.8 1096.4 848.1 1098.0 849.4 1099.5 850.7 1101.1 851.9 1102.6 853.2 1104.1 854.5 1105.7 855.8 1107.2 857.1 1108.8 858.3 1110.3 859.6 1111.8 860.9 1113.3 862.2 1114.8 863.5 1116.3 864.8 1117.8 866.2 1119.3 867.5 1120.8 868.9 1122.3 870.2 1123.7 871.6 1125.1 873.1 1126.4 874.5 1127.8 876.0 1129.1 877.5 1130.3 879.1 1131.6 880.6 1132.9 882.2 1134.1 883.7 1135.4 885.3 1136.7 886.8 1138.0 888.3 1139.3 889.8 1140.6 891.3 1141.9 892.8 1143.3 894.3 1144.6 895.8 1145.9 897.3 1147.3 898.8 1148.6 900.3 1149.9 901.8 1151.3 903.3 1152.6 904.8 1153.9 906.2 1155.3 907.7 1156.6 909.2 1158.0 910.7 1159.3 912.2 1160.6 913.7 1161.9 915.2 1163.2 916.7 1164.4 918.3 1165.6 919.9 1166.8 921.5 1168.0 923.1 1169.2 924.7 1170.5 926.3 1171.7 927.8 1173.1 929.3 1174.4 930.8 1175.8 932.2 1177.2 933.6 1178.6 935.1 1180.0 936.5 1181.4 937.9 1182.9 939.3 1184.3 940.7 1185.7 942.1 1187.1 943.5 1188.6 944.9 1190.0 946.3 1191.4 947.7 1192.8 949.1 1194.2 950.6 1195.6 952.0 1197.0 953.4 1198.4 954.8 1199.9 956.2 1201.3 957.6 1202.7 959.0 1204.1 960.4 1205.6 961.8 1207.0 963.2 1208.5 964.6 1209.9 966.0 1211.3 967.3 1212.8 968.7 1214.3 970.1 1215.8 971.4 1217.3 972.7 1218.8 974.1 1220.3 975.3 1221.8 976.6 1223.4 977.9 1225.0 979.1 1226.5 980.3 1228.1 981.5 1229.7 982.7 1231.4 983.9 1233.0 985.0 1234.7 986.1 1236.4 987.2 1238.1 988.2 1239.8 989.2 1241.6 990.2 1243.3 991.1 1245.1 992.0 1246.9 993.0 1248.6 993.9 1250.4 994.9 1252.1 995.9 1253.8 996.9 1255.5 998.0 1257.2 999.0 1258.9 1000.1 1260.6 1001.1 1262.3 1002.2 1264.0 1003.2 1265.8 1004.2 1267.5 1005.2 1269.2 1006.2 1271.0 1007.2 1272.8 1008.1 1274.6 1008.9 1276.4 1009.8 1278.2 1010.6 1280.1 1011.3 1281.9 1012.0 1283.8 1012.7 1285.7 1013.3 1287.6 1013.9 1289.6 1014.4 1291.5 1014.9 1293.4 1015.4 1295.4 1015.8 1297.3 1016.2 1299.3 1016.6 1301.3 1017.0 1303.2 1017.3 1305.2 1017.7 1307.2 1018.0 1309.2 1018.3 1311.1 1018.6 1313.1 1018.9 1315.1 1019.2 1317.1 1019.4 1319.1 1019.6 1321.1 1019.8 1323.0 1020.0 1325.0 1020.2 1327.0 1020.3 1329.0 1020.4 1331.0 1020.6 1333.0 1020.7 1335.0 1020.8 1337.0 1020.9 1339.0 1020.9 1341.0 1021.0 1343.0 1021.1 1345.0 1021.1 1347.0 1021.2 1349.0 1021.3 1351.0 1021.3 1353.0 1021.3 1355.0 1021.4 1357.0 1021.4 1359.0 1021.4 1361.0 1021.5 1363.0 1021.5 1365.0 1021.5 1367.0 1021.6 1369.0 1021.6 1371.0 1021.6 1373.0 1021.6 1375.0 1021.6 1377.0 1021.7 1379.0 1021.7 1381.0 1021.7 1383.0 1021.7 1385.0 1021.7 1387.0 1021.7 1389.0 1021.7 1391.0 1021.8 1393.0 1021.8 1395.0 1021.8 1397.0 1021.8 1399.0 1021.8 1401.0 1021.8 1403.0 1021.8 1405.0 1021.8 1407.0 1021.8 1409.0 1021.9 1411.0 1021.9 1413.0 1021.9 1415.0 1021.9 1417.0 1021.9 1419.0 1021.9 1421.0 1021.9 1423.0 1021.9 1425.0 1021.9 1427.0 1021.9 1429.0 1021.9 1430.9 1021.9 1432.7 1022.0 1434.3 1022.0 1435.7 1022.0 1436.2 1022.0" fill="none" stroke="#a8b4a8" stroke-width="3.2" stroke-linejoin="round" stroke-linecap="round"/>
<path d="M138.7 1003.5 L139.8 1003.9 141.2 1004.3 142.9 1004.9 144.7 1005.4 146.6 1006.0 148.5 1006.6 150.4 1007.2 152.3 1007.7 154.2 1008.3 156.1 1008.9 158.0 1009.4 160.0 1010.0 161.9 1010.5 163.8 1011.0 165.7 1011.6 167.7 1012.1 169.6 1012.6 171.5 1013.1 173.5 1013.6 175.4 1014.1 177.4 1014.5 179.3 1014.9 181.3 1015.3 183.3 1015.6 185.2 1016.0 187.2 1016.3 189.2 1016.5 191.2 1016.8 193.2 1017.0 195.2 1017.1 197.2 1017.3 199.1 1017.4 201.1 1017.4 203.1 1017.4 205.1 1017.3 207.1 1017.1 209.1 1016.8 211.0 1016.5 212.9 1016.0 214.8 1015.3 216.7 1014.6 218.5 1013.8 220.3 1013.0 222.1 1012.1 223.8 1011.1 225.6 1010.2 227.4 1009.3 229.2 1008.4 231.0 1007.5 232.8 1006.7 234.6 1005.8 236.4 1004.9 238.2 1004.1 240.0 1003.3 241.9 1002.5 243.7 1001.9 245.6 1001.3 247.6 1000.7 249.5 1000.3 251.5 999.9 253.4 999.5 255.4 999.2 257.4 998.9 259.4 998.7 261.3 998.4 263.3 998.2 265.3 998.0 267.3 997.8 269.3 997.7 271.3 997.5 273.3 997.3 275.3 997.2 277.3 997.0 279.3 996.9 281.3 996.7 283.3 996.6 285.3 996.4 287.2 996.2 289.2 996.1 291.2 995.9 293.2 995.7 295.2 995.6 297.2 995.4 299.2 995.3 301.2 995.1 303.2 995.0 305.2 994.8 307.2 994.7 309.2 994.6 311.2 994.4 313.2 994.3 315.2 994.1 317.2 994.0 319.2 993.9 321.2 993.7 323.1 993.5 325.1 993.4 327.1 993.2 329.1 993.0 331.1 992.9 333.1 992.7 335.1 992.5 337.1 992.3 339.1 992.1 341.1 991.9 343.1 991.6 345.0 991.4 347.0 991.2 349.0 990.9 351.0 990.7 353.0 990.4 355.0 990.2 356.9 989.9 358.9 989.6 360.9 989.4 362.9 989.1 364.9 988.8 366.9 988.6 368.8 988.3 370.8 988.0 372.8 987.7 374.8 987.4 376.8 987.2 378.7 986.9 380.7 986.6 382.7 986.3 384.7 986.1 386.7 985.8 388.6 985.5 390.6 985.2 392.6 985.0 394.6 984.7 396.6 984.5 398.6 984.2 400.5 984.0 402.5 983.7 404.5 983.5 406.5 983.2 408.5 983.0 410.5 982.8 412.5 982.6 414.5 982.4 416.4 982.2 418.4 982.0 420.4 981.8 422.4 981.6 424.4 981.4 426.4 981.2 428.4 981.0 430.4 980.8 432.4 980.6 434.3 980.3 436.3 980.1 438.3 979.8 440.3 979.5 442.3 979.3 444.2 978.9 446.2 978.6 448.2 978.3 450.2 977.9 452.1 977.6 454.1 977.2 456.1 976.8 458.0 976.4 460.0 976.0 461.9 975.6 463.9 975.2 465.8 974.7 467.8 974.3 469.7 973.8 471.7 973.3 473.6 972.8 475.5 972.3 477.5 971.8 479.4 971.3 481.3 970.7 483.2 970.1 485.1 969.6 487.1 969.0 489.0 968.3 490.8 967.7 492.7 967.0 494.6 966.4 496.5 965.7 498.4 965.0 500.2 964.2 502.1 963.5 503.9 962.7 505.8 962.0 507.6 961.2 509.5 960.4 511.3 959.6 513.1 958.8 514.9 957.9 516.7 957.1 518.5 956.2 520.3 955.4 522.1 954.5 523.9 953.6 525.7 952.6 527.5 951.7 529.2 950.7 531.0 949.8 532.7 948.8 534.4 947.8 536.2 946.8 537.9 945.8 539.6 944.8 541.4 943.8 543.1 942.8 544.9 941.9 546.6 940.9 548.4 939.9 550.1 939.0 551.9 938.0 553.7 937.1 555.4 936.1 557.2 935.2 558.9 934.3 560.7 933.3 562.5 932.4 564.2 931.4 566.0 930.5 567.8 929.6 569.6 928.7 571.3 927.7 573.1 926.8 574.9 925.9 576.7 925.0 578.4 924.0 580.2 923.1 582.0 922.2 583.7 921.3 585.5 920.3 587.3 919.4 589.1 918.5 590.8 917.5 592.6 916.6 594.4 915.6 596.1 914.7 597.9 913.7 599.6 912.7 601.3 911.7 603.0 910.7 604.7 909.6 606.3 908.4 607.9 907.2 609.4 906.0 611.0 904.7 612.5 903.4 614.1 902.2 615.6 900.9 617.2 899.7 618.8 898.5 620.4 897.2 622.0 896.0 623.6 894.8 625.2 893.6 626.8 892.4 628.4 891.2 630.0 890.1 631.6 888.9 633.3 887.8 634.9 886.6 636.5 885.4 638.1 884.2 639.6 883.0 641.2 881.7 642.7 880.3 644.1 879.0 645.6 877.6 647.0 876.2 648.5 874.9 650.0 873.6 651.5 872.3 653.1 871.0 654.7 869.8 656.3 868.6 657.9 867.4 659.5 866.3 661.2 865.1 662.8 864.0 664.4 862.8 666.0 861.7 667.7 860.5 669.2 859.3 670.8 858.0 672.4 856.8 673.9 855.5 675.4 854.2 676.9 852.8 678.3 851.4 679.7 850.0 681.2 848.6 682.6 847.2 684.0 845.8 685.4 844.4 686.8 843.0 688.3 841.6 689.7 840.2 691.2 838.9 692.7 837.5 694.1 836.2 695.6 834.8 697.1 833.5 698.6 832.1 700.0 830.8 701.5 829.4 703.0 828.1 704.5 826.7 705.9 825.3 707.3 823.9 708.8 822.5 710.2 821.1 711.6 819.7 713.0 818.3 714.4 816.8 715.8 815.5 717.3 814.1 718.7 812.7 720.2 811.4 721.7 810.0 723.2 808.7 724.7 807.4 726.2 806.1 727.7 804.8 729.3 803.5 730.8 802.2 732.3 800.9 733.8 799.6 735.3 798.2 736.8 796.9 738.3 795.6 739.8 794.3 741.3 792.9 742.7 791.5 744.2 790.2 745.6 788.7 747.0 787.3 748.3 785.8 749.7 784.4 751.0 782.9 752.4 781.4 753.7 780.0 755.1 778.5 756.5 777.1 757.9 775.6 759.3 774.2 760.7 772.8 762.1 771.4 763.6 770.0 765.0 768.6 766.5 767.3 768.0 765.9 769.4 764.6 770.9 763.2 772.4 761.9 773.9 760.6 775.5 759.3 777.0 758.0 778.5 756.7 780.0 755.4 781.6 754.1 783.1 752.8 784.6 751.5 786.1 750.3 787.7 749.0 789.2 747.7 790.7 746.4 792.3 745.1 793.8 743.8 795.3 742.5 796.8 741.2 798.3 739.9 799.9 738.6 801.4 737.3 802.8 735.9 804.3 734.6 805.8 733.2 807.3 731.9 808.7 730.5 810.2 729.2 811.7 727.8 813.1 726.4 814.6 725.1 816.1 723.7 817.6 722.4 819.1 721.1 820.6 719.8 822.1 718.5 823.6 717.2 825.2 715.9 826.8 714.7 828.3 713.5 829.9 712.3 831.6 711.1 833.2 709.9 834.8 708.8 836.5 707.7 838.1 706.5 839.8 705.4 841.5 704.3 843.1 703.2 844.8 702.1 846.4 701.0 848.1 699.8 849.7 698.7 851.4 697.5 853.0 696.4 854.6 695.2 856.2 694.0 857.8 692.8 859.4 691.6 861.0 690.4 862.6 689.2 864.3 688.1 865.9 686.9 867.5 685.8 869.2 684.7 870.9 683.6 872.6 682.5 874.3 681.5 876.0 680.5 877.8 679.6 879.6 678.7 881.4 677.9 883.2 677.0 885.1 676.3 886.9 675.5 888.8 674.8 890.6 674.1 892.5 673.4 894.4 672.8 896.3 672.1 898.2 671.5 900.1 671.0 902.1 670.4 904.0 669.9 905.9 669.4 907.9 669.0 909.8 668.6 911.8 668.2 913.8 667.9 915.7 667.6 917.7 667.4 919.7 667.2 921.7 667.0 923.7 666.9 925.7 666.8 927.7 666.7 929.7 666.7 931.7 666.7 933.7 666.7 935.7 666.8 937.7 666.9 939.7 667.0 941.7 667.0 943.7 667.1 945.7 667.2 947.7 667.4 949.7 667.5 951.7 667.7 953.6 667.9 955.6 668.1 957.6 668.4 959.6 668.8 961.5 669.2 963.4 669.8 965.3 670.3 967.2 671.0 969.1 671.7 971.0 672.4 972.8 673.2 974.6 674.0 976.4 674.8 978.2 675.7 980.0 676.6 981.8 677.5 983.6 678.4 985.4 679.3 987.1 680.2 988.9 681.2 990.7 682.1 992.4 683.1 994.2 684.1 995.9 685.1 997.6 686.1 999.3 687.1 1001.0 688.2 1002.7 689.2 1004.4 690.3 1006.1 691.3 1007.8 692.4 1009.5 693.5 1011.2 694.5 1012.9 695.6 1014.6 696.6 1016.3 697.7 1018.0 698.8 1019.7 699.8 1021.4 700.9 1023.1 701.9 1024.8 703.0 1026.5 704.0 1028.2 705.1 1029.9 706.2 1031.6 707.2 1033.3 708.3 1034.9 709.4 1036.6 710.5 1038.3 711.6 1040.0 712.7 1041.6 713.8 1043.3 714.9 1044.9 716.0 1046.6 717.2 1048.2 718.3 1049.8 719.5 1051.4 720.7 1053.0 721.9 1054.6 723.1 1056.2 724.4 1057.7 725.6 1059.3 726.9 1060.8 728.2 1062.3 729.5 1063.9 730.8 1065.4 732.1 1066.9 733.4 1068.4 734.7 1069.9 736.1 1071.3 737.4 1072.8 738.7 1074.3 740.1 1075.8 741.4 1077.2 742.8 1078.7 744.2 1080.2 745.5 1081.6 746.9 1083.0 748.3 1084.5 749.7 1085.9 751.1 1087.3 752.5 1088.7 753.9 1090.2 755.3 1091.6 756.8 1092.9 758.2 1094.3 759.6 1095.7 761.1 1097.1 762.5 1098.4 764.0 1099.8 765.5 1101.1 767.0 1102.5 768.5 1103.8 770.0 1105.1 771.5 1106.4 773.0 1107.7 774.5 1109.0 776.0 1110.3 777.5 1111.6 779.1 1112.9 780.6 1114.2 782.1 1115.4 783.7 1116.7 785.2 1118.0 786.8 1119.2 788.3 1120.5 789.9 1121.7 791.5 1122.9 793.0 1124.2 794.6 1125.4 796.2 1126.6 797.8 1127.9 799.3 1129.1 800.9 1130.3 802.5 1131.5 804.1 1132.7 805.7 1133.9 807.3 1135.1 808.9 1136.2 810.6 1137.4 812.2 1138.6 813.8 1139.7 815.4 1140.9 817.1 1142.0 818.7 1143.2 820.4 1144.3 822.0 1145.4 823.7 1146.5 825.3 1147.7 827.0 1148.8 828.7 1149.9 830.3 1150.9 832.0 1152.0 833.7 1153.1 835.4 1154.2 837.1 1155.3 838.7 1156.3 840.4 1157.4 842.1 1158.4 843.8 1159.5 845.5 1160.5 847.2 1161.6 848.9 1162.6 850.6 1163.7 852.3 1164.7 854.0 1165.8 855.7 1166.8 857.4 1167.9 859.2 1168.9 860.9 1169.9 862.6 1171.0 864.3 1172.0 866.0 1173.0 867.7 1174.0 869.5 1175.0 871.2 1176.0 872.9 1177.0 874.6 1178.0 876.4 1179.0 878.1 1179.9 879.9 1180.9 881.7 1181.8 883.4 1182.7 885.2 1183.7 887.0 1184.6 888.7 1185.5 890.5 1186.4 892.3 1187.4 894.1 1188.3 895.8 1189.3 897.6 1190.3 899.3 1191.3 901.1 1192.3 902.8 1193.3 904.5 1194.3 906.2 1195.3 907.9 1196.4 909.6 1197.5 911.3 1198.5 913.0 1199.6 914.7 1200.7 916.4 1201.8 918.0 1203.0 919.7 1204.1 921.3 1205.3 922.9 1206.5 924.5 1207.7 926.1 1208.9 927.7 1210.1 929.3 1211.3 930.9 1212.6 932.5 1213.8 934.0 1215.1 935.6 1216.3 937.2 1217.5 938.7 1218.7 940.3 1219.9 941.9 1221.1 943.5 1222.3 945.1 1223.5 946.8 1224.7 948.4 1225.8 950.0 1227.0 951.6 1228.1 953.3 1229.3 954.9 1230.5 956.5 1231.7 958.1 1232.9 959.7 1234.2 961.2 1235.5 962.8 1236.8 964.3 1238.1 965.7 1239.6 967.1 1241.0 968.5 1242.5 969.9 1244.0 971.2 1245.5 972.5 1247.0 973.7 1248.6 975.0 1250.1 976.3 1251.6 977.6 1253.1 978.9 1254.6 980.3 1256.1 981.6 1257.6 982.9 1259.1 984.2 1260.6 985.5 1262.2 986.8 1263.7 988.1 1265.2 989.4 1266.8 990.7 1268.3 991.9 1269.9 993.2 1271.5 994.4 1273.1 995.5 1274.7 996.7 1276.4 997.8 1278.1 998.9 1279.8 999.9 1281.5 1000.9 1283.3 1001.9 1285.0 1002.8 1286.8 1003.8 1288.6 1004.6 1290.4 1005.5 1292.2 1006.3 1294.1 1007.1 1295.9 1007.9 1297.8 1008.6 1299.6 1009.3 1301.5 1010.0 1303.4 1010.6 1305.3 1011.2 1307.2 1011.8 1309.2 1012.3 1311.1 1012.8 1313.0 1013.3 1315.0 1013.7 1316.9 1014.1 1318.9 1014.5 1320.9 1014.9 1322.8 1015.3 1324.8 1015.6 1326.8 1016.0 1328.7 1016.3 1330.7 1016.7 1332.7 1017.0 1334.7 1017.3 1336.6 1017.7 1338.6 1017.9 1340.6 1018.2 1342.6 1018.5 1344.6 1018.7 1346.5 1018.9 1348.5 1019.1 1350.5 1019.3 1352.5 1019.5 1354.5 1019.6 1356.5 1019.8 1358.5 1019.9 1360.5 1020.0 1362.5 1020.1 1364.5 1020.2 1366.5 1020.3 1368.5 1020.4 1370.5 1020.5 1372.5 1020.5 1374.5 1020.6 1376.5 1020.7 1378.5 1020.7 1380.5 1020.8 1382.5 1020.8 1384.5 1020.9 1386.5 1020.9 1388.5 1021.0 1390.5 1021.0 1392.5 1021.1 1394.5 1021.1 1396.5 1021.2 1398.5 1021.2 1400.5 1021.3 1402.5 1021.3 1404.5 1021.3 1406.5 1021.4 1408.5 1021.4 1410.5 1021.5 1412.5 1021.5 1414.5 1021.5 1416.5 1021.6 1418.5 1021.6 1420.5 1021.6 1422.5 1021.7 1424.5 1021.7 1426.5 1021.7 1428.5 1021.8 1430.4 1021.8 1432.3 1021.9 1434.0 1021.9 1435.5 1021.9 1436.7 1021.9" fill="none" stroke="#c0a8c6" stroke-width="3.2" stroke-linejoin="round" stroke-linecap="round"/>
<path d="M138.7 1000.6 L139.8 1001.0 141.2 1001.5 142.8 1002.1 144.6 1002.7 146.4 1003.4 148.3 1004.0 150.2 1004.7 152.1 1005.3 154.0 1006.0 155.9 1006.6 157.8 1007.3 159.7 1007.9 161.6 1008.5 163.5 1009.1 165.4 1009.7 167.3 1010.2 169.2 1010.8 171.1 1011.4 173.1 1011.9 175.0 1012.5 176.9 1013.0 178.9 1013.5 180.8 1014.0 182.7 1014.5 184.7 1014.9 186.6 1015.3 188.6 1015.7 190.6 1016.1 192.5 1016.5 194.5 1016.8 196.5 1017.0 198.5 1017.1 200.4 1017.1 202.4 1017.0 204.4 1016.7 206.3 1016.3 208.2 1015.7 210.0 1015.1 211.9 1014.3 213.7 1013.4 215.4 1012.5 217.2 1011.5 218.9 1010.5 220.6 1009.5 222.4 1008.5 224.1 1007.5 225.8 1006.5 227.5 1005.4 229.2 1004.3 230.9 1003.3 232.5 1002.2 234.2 1001.1 235.9 1000.0 237.6 999.0 239.3 998.0 241.1 997.0 242.9 996.1 244.7 995.3 246.5 994.6 248.4 993.9 250.3 993.3 252.3 992.8 254.2 992.3 256.1 991.9 258.1 991.5 260.1 991.2 262.0 990.9 264.0 990.7 266.0 990.4 268.0 990.2 270.0 990.1 272.0 989.9 274.0 989.7 276.0 989.6 278.0 989.5 280.0 989.4 282.0 989.4 284.0 989.3 286.0 989.2 288.0 989.2 290.0 989.1 292.0 989.1 294.0 989.0 296.0 989.0 298.0 988.9 300.0 988.9 302.0 988.8 304.0 988.8 306.0 988.7 308.0 988.6 310.0 988.5 312.0 988.5 314.0 988.3 316.0 988.2 317.9 988.1 319.9 988.0 321.9 987.9 323.9 987.7 325.9 987.6 327.9 987.4 329.9 987.3 331.9 987.1 333.9 987.0 335.9 986.9 337.9 986.7 339.9 986.6 341.9 986.4 343.9 986.2 345.9 986.1 347.9 985.9 349.9 985.7 351.9 985.6 353.8 985.4 355.8 985.2 357.8 985.0 359.8 984.8 361.8 984.5 363.8 984.3 365.8 984.1 367.8 983.8 369.7 983.6 371.7 983.3 373.7 983.0 375.7 982.7 377.6 982.4 379.6 982.0 381.6 981.7 383.5 981.3 385.5 980.9 387.5 980.5 389.4 980.0 391.4 979.6 393.3 979.1 395.2 978.6 397.2 978.1 399.1 977.6 401.0 977.1 403.0 976.6 404.9 976.0 406.8 975.5 408.8 974.9 410.7 974.4 412.6 973.8 414.5 973.3 416.4 972.7 418.3 972.1 420.3 971.6 422.2 971.0 424.1 970.4 426.0 969.9 428.0 969.4 429.9 968.8 431.8 968.3 433.8 967.8 435.7 967.3 437.6 966.9 439.6 966.5 441.6 966.1 443.5 965.7 445.5 965.3 447.4 964.9 449.4 964.4 451.3 964.0 453.2 963.4 455.1 962.8 457.0 962.2 458.9 961.4 460.7 960.6 462.5 959.8 464.3 958.9 466.0 957.9 467.7 956.9 469.5 955.9 471.2 954.8 472.8 953.7 474.5 952.7 476.2 951.6 477.9 950.5 479.6 949.5 481.3 948.4 483.1 947.5 484.8 946.5 486.6 945.6 488.4 944.7 490.2 943.8 492.0 943.0 493.8 942.2 495.7 941.4 497.5 940.6 499.3 939.8 501.2 939.0 503.0 938.2 504.8 937.4 506.6 936.6 508.4 935.7 510.2 934.8 512.0 933.9 513.7 932.9 515.5 931.9 517.2 930.8 518.8 929.7 520.5 928.6 522.1 927.5 523.8 926.3 525.4 925.2 527.0 924.0 528.7 922.9 530.3 921.7 532.0 920.6 533.6 919.5 535.3 918.3 536.9 917.2 538.6 916.1 540.3 915.0 541.9 913.9 543.6 912.8 545.2 911.7 546.9 910.5 548.5 909.4 550.1 908.2 551.7 907.0 553.3 905.8 554.8 904.5 556.4 903.2 557.9 901.9 559.5 900.7 561.1 899.5 562.7 898.4 564.4 897.3 566.0 896.2 567.6 895.1 569.2 893.8 570.7 892.5 572.2 891.2 573.6 889.8 575.0 888.4 576.5 887.0 577.9 885.6 579.2 884.1 580.6 882.7 582.0 881.2 583.4 879.8 584.7 878.3 586.1 876.9 587.5 875.5 588.9 874.0 590.4 872.7 591.9 871.4 593.4 870.1 595.0 868.9 596.7 867.8 598.3 866.6 599.8 865.4 601.4 864.1 602.9 862.8 604.3 861.4 605.7 860.0 607.0 858.5 608.4 857.0 609.7 855.5 611.0 854.0 612.3 852.5 613.6 851.0 614.8 849.4 616.1 847.9 617.4 846.3 618.6 844.7 619.8 843.1 621.0 841.6 622.2 840.0 623.4 838.4 624.6 836.8 625.9 835.2 627.1 833.6 628.3 832.1 629.6 830.5 630.9 829.0 632.2 827.5 633.6 826.0 635.0 824.6 636.4 823.1 637.8 821.7 639.1 820.3 640.5 818.8 641.9 817.4 643.3 815.9 644.6 814.4 645.9 812.9 647.2 811.4 648.5 809.9 649.8 808.4 651.1 806.8 652.4 805.3 653.6 803.7 654.9 802.2 656.1 800.6 657.4 799.1 658.7 797.5 659.9 796.0 661.2 794.4 662.4 792.8 663.7 791.3 665.0 789.7 666.2 788.2 667.5 786.7 668.8 785.1 670.0 783.6 671.3 782.0 672.5 780.4 673.8 778.9 675.0 777.3 676.2 775.7 677.4 774.1 678.6 772.5 679.8 770.9 681.0 769.3 682.1 767.6 683.2 766.0 684.4 764.3 685.5 762.7 686.6 761.0 687.7 759.3 688.8 757.7 689.9 756.0 691.0 754.3 692.1 752.6 693.2 751.0 694.3 749.3 695.4 747.6 696.5 746.0 697.6 744.3 698.7 742.6 699.8 741.0 701.0 739.3 702.1 737.7 703.2 736.1 704.4 734.4 705.5 732.8 706.7 731.1 707.8 729.5 708.9 727.8 710.1 726.2 711.2 724.5 712.4 722.9 713.5 721.3 714.7 719.6 715.8 718.0 717.0 716.3 718.1 714.7 719.3 713.1 720.4 711.4 721.6 709.8 722.7 708.2 723.9 706.5 725.0 704.9 726.2 703.3 727.3 701.6 728.4 700.0 729.5 698.3 730.7 696.7 731.8 695.0 732.9 693.3 734.0 691.6 735.0 690.0 736.1 688.3 737.2 686.6 738.2 684.9 739.3 683.2 740.3 681.5 741.3 679.7 742.4 678.0 743.4 676.3 744.4 674.6 745.5 672.9 746.5 671.2 747.5 669.4 748.5 667.7 749.5 666.0 750.5 664.3 751.5 662.5 752.6 660.8 753.6 659.1 754.6 657.4 755.7 655.7 756.7 654.0 757.8 652.3 758.8 650.6 759.9 648.9 760.9 647.2 762.0 645.5 763.0 643.8 764.1 642.1 765.1 640.4 766.1 638.6 767.1 636.9 768.1 635.2 769.1 633.4 770.1 631.7 771.1 629.9 772.1 628.2 773.1 626.5 774.2 624.8 775.2 623.1 776.3 621.5 777.4 619.8 778.6 618.1 779.7 616.5 780.9 614.9 782.0 613.2 783.2 611.6 784.3 610.0 785.5 608.4 786.7 606.7 787.9 605.1 789.0 603.5 790.2 601.9 791.4 600.3 792.6 598.7 793.8 597.1 795.0 595.4 796.2 593.8 797.4 592.2 798.5 590.6 799.7 589.0 800.9 587.4 802.1 585.8 803.3 584.2 804.6 582.6 805.8 581.1 807.0 579.5 808.2 577.9 809.5 576.3 810.7 574.7 811.9 573.2 813.2 571.6 814.4 570.0 815.6 568.5 816.9 566.9 818.1 565.3 819.3 563.7 820.5 562.1 821.8 560.6 823.0 559.0 824.2 557.4 825.4 555.7 826.5 554.1 827.7 552.5 828.9 550.9 830.1 549.3 831.3 547.7 832.4 546.1 833.6 544.4 834.8 542.8 836.0 541.2 837.1 539.6 838.3 538.0 839.5 536.4 840.7 534.7 841.9 533.1 843.0 531.5 844.2 529.9 845.4 528.3 846.6 526.7 847.8 525.1 849.0 523.5 850.2 521.9 851.4 520.3 852.6 518.7 853.8 517.1 855.0 515.5 856.2 513.9 857.4 512.3 858.7 510.7 859.9 509.2 861.1 507.6 862.4 506.0 863.7 504.5 864.9 503.0 866.2 501.4 867.5 499.9 868.9 498.4 870.2 496.9 871.5 495.4 872.8 493.9 874.2 492.4 875.5 491.0 876.9 489.5 878.2 488.0 879.6 486.5 880.9 485.1 882.3 483.6 883.7 482.2 885.1 480.8 886.5 479.4 888.0 478.0 889.4 476.6 890.8 475.2 892.3 473.8 893.8 472.5 895.3 471.1 896.8 469.8 898.2 468.5 899.7 467.1 901.1 465.7 902.6 464.3 904.0 462.9 905.4 461.5 906.9 460.1 908.3 458.8 909.8 457.5 911.4 456.2 912.9 455.0 914.5 453.8 916.2 452.7 917.9 451.6 919.6 450.5 921.3 449.5 923.0 448.5 924.7 447.5 926.5 446.5 928.2 445.5 930.0 444.6 931.7 443.7 933.6 443.0 935.4 442.4 937.3 442.0 939.2 441.9 941.1 441.9 943.0 442.1 945.0 442.4 947.0 442.7 948.9 442.9 950.9 443.2 952.9 443.3 954.9 443.5 956.9 443.6 958.9 443.7 960.9 443.8 962.9 443.9 964.8 444.1 966.7 444.4 968.6 444.9 970.4 445.5 972.2 446.3 973.9 447.2 975.7 448.1 977.4 449.1 979.1 450.1 980.7 451.1 982.3 452.3 983.8 453.6 985.2 455.0 986.6 456.3 988.1 457.7 989.6 459.0 991.1 460.2 992.7 461.5 994.3 462.7 995.9 463.9 997.5 465.1 999.1 466.2 1000.7 467.4 1002.4 468.5 1004.0 469.7 1005.6 470.9 1007.2 472.1 1008.8 473.3 1010.4 474.5 1012.0 475.7 1013.6 476.9 1015.2 478.1 1016.8 479.3 1018.4 480.5 1019.9 481.8 1021.4 483.1 1023.0 484.4 1024.5 485.7 1026.0 486.9 1027.6 488.2 1029.1 489.5 1030.7 490.7 1032.3 491.9 1033.9 493.1 1035.5 494.3 1037.1 495.5 1038.7 496.6 1040.3 497.8 1042.0 499.0 1043.6 500.2 1045.2 501.4 1046.8 502.6 1048.4 503.7 1050.0 504.9 1051.6 506.1 1053.2 507.3 1054.8 508.5 1056.4 509.7 1058.0 510.9 1059.6 512.1 1061.2 513.3 1062.8 514.5 1064.4 515.8 1066.0 517.0 1067.5 518.2 1069.1 519.5 1070.6 520.8 1072.2 522.0 1073.7 523.3 1075.2 524.6 1076.8 525.9 1078.3 527.2 1079.7 528.6 1081.2 529.9 1082.7 531.3 1084.1 532.7 1085.5 534.1 1087.0 535.5 1088.4 536.9 1089.8 538.3 1091.2 539.8 1092.5 541.2 1093.9 542.7 1095.3 544.1 1096.6 545.6 1097.9 547.1 1099.1 548.7 1100.3 550.3 1101.5 551.9 1102.7 553.5 1103.8 555.2 1105.0 556.8 1106.1 558.4 1107.2 560.1 1108.4 561.7 1109.5 563.4 1110.6 565.1 1111.7 566.7 1112.8 568.4 1113.9 570.1 1115.0 571.7 1116.1 573.4 1117.2 575.1 1118.2 576.8 1119.3 578.5 1120.3 580.2 1121.3 581.9 1122.4 583.7 1123.4 585.4 1124.4 587.1 1125.3 588.9 1126.3 590.6 1127.3 592.4 1128.2 594.1 1129.2 595.9 1130.1 597.6 1131.1 599.4 1132.0 601.2 1132.9 603.0 1133.8 604.7 1134.7 606.5 1135.6 608.3 1136.5 610.1 1137.4 611.9 1138.3 613.7 1139.2 615.5 1140.1 617.2 1141.0 619.0 1141.9 620.8 1142.7 622.6 1143.6 624.4 1144.5 626.2 1145.3 628.0 1146.2 629.9 1147.0 631.7 1147.9 633.5 1148.7 635.3 1149.6 637.1 1150.4 638.9 1151.2 640.8 1152.0 642.6 1152.8 644.4 1153.6 646.3 1154.4 648.1 1155.2 649.9 1155.9 651.8 1156.7 653.6 1157.5 655.5 1158.2 657.3 1158.9 659.2 1159.7 661.1 1160.4 662.9 1161.1 664.8 1161.8 666.7 1162.5 668.5 1163.2 670.4 1163.9 672.3 1164.6 674.2 1165.2 676.1 1165.9 677.9 1166.6 679.8 1167.3 681.7 1168.0 683.6 1168.6 685.5 1169.3 687.3 1170.0 689.2 1170.7 691.1 1171.4 693.0 1172.0 694.9 1172.7 696.8 1173.4 698.6 1174.0 700.5 1174.7 702.4 1175.4 704.3 1176.0 706.2 1176.7 708.1 1177.4 710.0 1178.0 711.8 1178.7 713.7 1179.3 715.6 1180.0 717.5 1180.7 719.4 1181.3 721.3 1182.0 723.2 1182.6 725.1 1183.3 726.9 1184.0 728.8 1184.6 730.7 1185.3 732.6 1186.0 734.5 1186.6 736.4 1187.3 738.3 1188.0 740.1 1188.6 742.0 1189.3 743.9 1190.0 745.8 1190.7 747.7 1191.3 749.6 1192.0 751.4 1192.7 753.3 1193.3 755.2 1194.0 757.1 1194.7 759.0 1195.3 760.9 1196.0 762.8 1196.7 764.6 1197.3 766.5 1198.0 768.4 1198.7 770.3 1199.3 772.2 1200.0 774.1 1200.6 776.0 1201.3 777.9 1201.9 779.8 1202.6 781.7 1203.2 783.6 1203.8 785.4 1204.5 787.3 1205.1 789.2 1205.7 791.1 1206.4 793.0 1207.0 794.9 1207.6 796.8 1208.2 798.7 1208.9 800.6 1209.5 802.5 1210.1 804.4 1210.7 806.3 1211.4 808.2 1212.0 810.1 1212.6 812.0 1213.3 813.9 1213.9 815.8 1214.6 817.7 1215.2 819.6 1215.8 821.5 1216.5 823.4 1217.2 825.3 1217.8 827.2 1218.5 829.1 1219.1 830.9 1219.8 832.8 1220.5 834.7 1221.1 836.6 1221.8 838.5 1222.5 840.4 1223.2 842.2 1223.8 844.1 1224.5 846.0 1225.2 847.9 1225.8 849.8 1226.5 851.7 1227.2 853.6 1227.8 855.4 1228.5 857.3 1229.1 859.2 1229.8 861.1 1230.4 863.0 1231.0 864.9 1231.7 866.8 1232.3 868.7 1232.9 870.6 1233.5 872.5 1234.0 874.5 1234.6 876.4 1235.2 878.3 1235.8 880.2 1236.3 882.1 1236.9 884.0 1237.5 885.9 1238.1 887.9 1238.7 889.8 1239.3 891.7 1239.9 893.6 1240.5 895.5 1241.1 897.4 1241.8 899.3 1242.4 901.2 1243.1 903.1 1243.7 904.9 1244.4 906.8 1245.1 908.7 1245.8 910.6 1246.6 912.4 1247.4 914.2 1248.2 916.1 1249.1 917.9 1250.0 919.6 1250.9 921.4 1251.9 923.2 1252.8 924.9 1253.8 926.7 1254.8 928.4 1255.8 930.1 1256.8 931.9 1257.8 933.6 1258.9 935.3 1259.9 937.0 1261.0 938.7 1262.0 940.4 1263.1 942.1 1264.1 943.8 1265.2 945.5 1266.3 947.2 1267.4 948.8 1268.5 950.5 1269.6 952.2 1270.7 953.8 1271.8 955.5 1273.0 957.1 1274.1 958.8 1275.3 960.4 1276.4 962.0 1277.6 963.6 1278.8 965.2 1280.0 966.8 1281.2 968.4 1282.4 970.0 1283.7 971.6 1284.9 973.2 1286.2 974.7 1287.5 976.2 1288.7 977.8 1290.0 979.3 1291.4 980.8 1292.7 982.3 1294.0 983.8 1295.4 985.3 1296.8 986.7 1298.1 988.1 1299.5 989.6 1301.0 991.0 1302.4 992.4 1303.8 993.8 1305.3 995.1 1306.8 996.5 1308.3 997.8 1309.8 999.1 1311.4 1000.4 1312.9 1001.6 1314.5 1002.8 1316.1 1004.0 1317.7 1005.2 1319.4 1006.3 1321.0 1007.4 1322.7 1008.4 1324.5 1009.4 1326.2 1010.4 1328.0 1011.3 1329.8 1012.2 1331.6 1012.9 1333.5 1013.7 1335.4 1014.4 1337.3 1015.0 1339.2 1015.6 1341.1 1016.1 1343.0 1016.6 1345.0 1017.1 1346.9 1017.5 1348.9 1017.9 1350.8 1018.3 1352.8 1018.6 1354.8 1019.0 1356.8 1019.2 1358.7 1019.5 1360.7 1019.7 1362.7 1019.9 1364.7 1020.1 1366.7 1020.2 1368.7 1020.4 1370.7 1020.5 1372.7 1020.6 1374.7 1020.7 1376.7 1020.8 1378.7 1020.9 1380.7 1021.0 1382.7 1021.1 1384.7 1021.2 1386.7 1021.2 1388.7 1021.3 1390.7 1021.3 1392.7 1021.4 1394.7 1021.4 1396.7 1021.5 1398.7 1021.5 1400.7 1021.5 1402.7 1021.6 1404.7 1021.6 1406.7 1021.6 1408.7 1021.7 1410.7 1021.7 1412.7 1021.7 1414.7 1021.7 1416.7 1021.8 1418.7 1021.8 1420.7 1021.8 1422.7 1021.8 1424.7 1021.8 1426.7 1021.9 1428.7 1021.9 1430.6 1021.9 1432.5 1021.9 1434.2 1021.9 1435.7 1022.0 1436.9 1022.0" fill="none" stroke="#a0a0b2" stroke-width="3.2" stroke-linejoin="round" stroke-linecap="round"/>
<path d="M138.6 991.8 L139.6 992.4 141.0 993.0 142.5 993.8 144.2 994.7 145.9 995.6 147.7 996.5 149.5 997.3 151.3 998.2 153.1 999.1 154.9 999.9 156.7 1000.7 158.5 1001.6 160.4 1002.4 162.2 1003.1 164.1 1003.9 165.9 1004.7 167.8 1005.4 169.6 1006.1 171.5 1006.8 173.4 1007.4 175.3 1008.0 177.2 1008.6 179.2 1009.1 181.1 1009.6 183.1 1010.0 185.0 1010.4 187.0 1010.8 188.9 1011.1 190.9 1011.4 192.9 1011.7 194.9 1011.9 196.9 1012.1 198.9 1012.2 200.9 1012.3 202.9 1012.3 204.8 1012.3 206.8 1012.1 208.8 1011.8 210.7 1011.3 212.5 1010.7 214.4 1010.0 216.1 1009.1 217.9 1008.1 219.5 1007.0 221.2 1005.9 222.8 1004.7 224.4 1003.5 226.0 1002.3 227.6 1001.1 229.2 1000.0 230.9 998.9 232.6 997.8 234.3 996.8 236.0 995.8 237.8 994.8 239.6 993.9 241.4 993.1 243.2 992.3 245.1 991.6 247.0 991.0 248.9 990.5 250.8 990.0 252.8 989.6 254.7 989.2 256.7 988.9 258.7 988.7 260.7 988.5 262.7 988.3 264.7 988.1 266.6 987.9 268.6 987.8 270.6 987.6 272.6 987.5 274.6 987.4 276.6 987.2 278.6 987.1 280.6 987.0 282.6 986.9 284.6 986.8 286.6 986.7 288.6 986.6 290.6 986.5 292.6 986.4 294.6 986.3 296.6 986.3 298.6 986.2 300.6 986.1 302.6 986.1 304.6 986.0 306.6 985.9 308.6 985.8 310.6 985.7 312.6 985.6 314.6 985.4 316.6 985.3 318.6 985.1 320.6 984.9 322.5 984.7 324.5 984.5 326.5 984.2 328.5 984.0 330.5 983.7 332.5 983.5 334.4 983.2 336.4 982.9 338.4 982.6 340.4 982.3 342.4 982.0 344.3 981.7 346.3 981.4 348.3 981.0 350.2 980.7 352.2 980.4 354.2 980.0 356.2 979.7 358.1 979.3 360.1 979.0 362.1 978.6 364.0 978.3 366.0 977.9 368.0 977.5 369.9 977.1 371.9 976.8 373.9 976.4 375.8 976.0 377.8 975.6 379.7 975.1 381.7 974.7 383.6 974.3 385.6 973.8 387.5 973.4 389.5 972.9 391.4 972.4 393.3 971.9 395.3 971.3 397.2 970.8 399.1 970.3 401.0 969.7 402.9 969.1 404.9 968.5 406.8 967.9 408.6 967.2 410.5 966.6 412.4 965.9 414.3 965.2 416.2 964.5 418.0 963.7 419.9 963.0 421.7 962.2 423.5 961.4 425.3 960.5 427.1 959.6 428.9 958.8 430.7 957.8 432.5 956.9 434.2 956.0 436.0 955.1 437.8 954.1 439.6 953.2 441.3 952.3 443.1 951.4 444.9 950.6 446.8 949.7 448.6 948.9 450.4 948.1 452.3 947.4 454.1 946.6 456.0 945.9 457.8 945.2 459.7 944.4 461.6 943.7 463.4 943.0 465.3 942.3 467.2 941.5 469.0 940.8 470.9 940.1 472.8 939.4 474.6 938.7 476.5 937.9 478.3 937.2 480.2 936.4 482.0 935.6 483.8 934.7 485.6 933.8 487.4 932.9 489.1 931.9 490.9 931.0 492.6 929.9 494.3 928.9 496.0 927.8 497.7 926.8 499.4 925.7 501.0 924.6 502.7 923.5 504.4 922.4 506.0 921.3 507.7 920.2 509.3 919.0 511.0 917.9 512.6 916.8 514.3 915.6 515.9 914.5 517.5 913.3 519.2 912.1 520.8 911.0 522.4 909.8 524.0 908.6 525.6 907.4 527.1 906.1 528.7 904.9 530.2 903.6 531.7 902.3 533.2 900.9 534.7 899.6 536.1 898.2 537.5 896.8 538.9 895.3 540.3 893.9 541.7 892.5 543.2 891.1 544.6 889.7 546.0 888.3 547.5 886.9 549.0 885.6 550.5 884.4 552.1 883.1 553.7 881.9 555.3 880.8 556.9 879.6 558.5 878.3 560.0 877.1 561.5 875.8 563.0 874.4 564.5 873.1 565.9 871.7 567.4 870.3 568.8 868.9 570.3 867.5 571.7 866.1 573.1 864.7 574.5 863.3 575.9 861.9 577.3 860.4 578.6 859.0 579.9 857.5 581.2 855.9 582.5 854.4 583.7 852.8 585.0 851.2 586.2 849.7 587.5 848.2 588.8 846.6 590.1 845.1 591.5 843.6 592.8 842.2 594.2 840.7 595.6 839.3 597.0 837.9 598.4 836.4 599.8 835.0 601.2 833.6 602.6 832.2 604.0 830.7 605.3 829.2 606.6 827.7 607.9 826.2 609.1 824.6 610.2 822.9 611.4 821.3 612.5 819.7 613.7 818.1 614.9 816.5 616.1 814.9 617.4 813.3 618.7 811.8 620.0 810.3 621.3 808.8 622.5 807.2 623.8 805.6 625.0 804.1 626.2 802.4 627.3 800.8 628.4 799.2 629.5 797.5 630.6 795.8 631.6 794.1 632.6 792.4 633.6 790.6 634.6 788.9 635.6 787.2 636.6 785.4 637.6 783.7 638.6 781.9 639.6 780.2 640.5 778.4 641.5 776.7 642.5 775.0 643.5 773.2 644.5 771.5 645.6 769.8 646.6 768.1 647.6 766.4 648.6 764.7 649.7 762.9 650.7 761.2 651.8 759.5 652.8 757.8 653.9 756.1 654.9 754.4 656.0 752.7 657.1 751.0 658.1 749.4 659.2 747.7 660.3 746.0 661.4 744.3 662.5 742.6 663.6 741.0 664.7 739.3 665.8 737.6 666.9 736.0 668.1 734.4 669.2 732.7 670.4 731.1 671.5 729.4 672.7 727.8 673.8 726.2 675.0 724.5 676.1 722.9 677.2 721.2 678.3 719.5 679.3 717.8 680.4 716.1 681.4 714.4 682.4 712.7 683.3 710.9 684.3 709.2 685.3 707.4 686.2 705.6 687.2 703.9 688.1 702.1 689.0 700.4 690.0 698.6 690.9 696.8 691.9 695.1 692.9 693.3 693.8 691.6 694.8 689.8 695.7 688.1 696.7 686.3 697.7 684.6 698.7 682.8 699.6 681.1 700.6 679.3 701.6 677.6 702.6 675.8 703.6 674.1 704.6 672.4 705.6 670.6 706.6 668.9 707.6 667.2 708.6 665.5 709.6 663.7 710.6 662.0 711.6 660.3 712.6 658.6 713.6 656.8 714.6 655.1 715.6 653.4 716.6 651.6 717.6 649.9 718.6 648.2 719.6 646.4 720.6 644.7 721.6 642.9 722.5 641.2 723.5 639.4 724.4 637.7 725.4 635.9 726.3 634.1 727.2 632.3 728.1 630.5 728.9 628.7 729.8 626.9 730.7 625.1 731.5 623.3 732.3 621.5 733.2 619.7 734.0 617.9 734.9 616.1 735.8 614.3 736.7 612.5 737.6 610.7 738.5 608.9 739.4 607.1 740.3 605.4 741.3 603.6 742.2 601.9 743.2 600.1 744.2 598.4 745.1 596.6 746.1 594.9 747.1 593.1 748.1 591.4 749.1 589.7 750.1 587.9 751.1 586.2 752.1 584.5 753.1 582.7 754.2 581.0 755.2 579.3 756.2 577.6 757.2 575.9 758.2 574.1 759.2 572.4 760.3 570.7 761.3 569.0 762.3 567.2 763.2 565.5 764.2 563.7 765.1 562.0 766.0 560.2 766.9 558.4 767.8 556.6 768.6 554.8 769.5 553.0 770.3 551.1 771.1 549.3 771.9 547.5 772.7 545.7 773.5 543.8 774.4 542.0 775.2 540.2 776.0 538.4 776.9 536.6 777.7 534.7 778.6 532.9 779.5 531.2 780.4 529.4 781.3 527.6 782.2 525.8 783.1 524.0 784.1 522.3 785.0 520.5 786.0 518.8 787.0 517.0 787.9 515.3 788.9 513.5 789.9 511.8 790.9 510.0 791.9 508.3 792.8 506.6 793.8 504.8 794.8 503.1 795.8 501.4 796.8 499.6 797.8 497.9 798.8 496.1 799.8 494.4 800.8 492.7 801.8 490.9 802.8 489.2 803.8 487.5 804.8 485.7 805.8 484.0 806.8 482.3 807.8 480.5 808.8 478.8 809.8 477.1 810.8 475.3 811.8 473.6 812.8 471.9 813.9 470.2 814.9 468.5 816.0 466.8 817.0 465.1 818.1 463.4 819.1 461.7 820.2 460.0 821.3 458.4 822.4 456.7 823.5 455.0 824.6 453.4 825.8 451.7 826.9 450.0 828.0 448.4 829.1 446.7 830.3 445.1 831.4 443.4 832.5 441.8 833.6 440.1 834.8 438.5 835.9 436.8 837.0 435.2 838.1 433.5 839.2 431.8 840.3 430.2 841.4 428.5 842.5 426.8 843.6 425.2 844.7 423.5 845.8 421.8 846.9 420.1 848.0 418.5 849.1 416.8 850.2 415.1 851.3 413.5 852.5 411.8 853.6 410.2 854.7 408.5 855.9 406.9 857.0 405.2 858.2 403.6 859.3 402.0 860.5 400.4 861.7 398.7 862.9 397.1 864.0 395.5 865.2 393.9 866.4 392.3 867.5 390.6 868.7 389.0 869.8 387.4 871.0 385.7 872.1 384.0 873.2 382.4 874.3 380.7 875.3 379.0 876.4 377.3 877.4 375.6 878.4 373.9 879.5 372.2 880.5 370.4 881.5 368.7 882.5 367.0 883.5 365.2 884.5 363.5 885.5 361.8 886.5 360.1 887.6 358.4 888.6 356.7 889.7 355.0 890.9 353.5 892.2 352.0 893.6 350.7 895.1 349.4 896.6 348.3 898.1 347.2 899.5 345.9 900.9 344.6 902.1 343.1 903.2 341.5 904.4 339.9 905.6 338.3 906.8 336.8 908.1 335.3 909.5 333.9 911.0 332.5 912.5 331.3 914.1 330.0 915.6 328.8 917.2 327.6 918.8 326.4 920.4 325.2 921.9 323.9 923.3 322.5 924.8 321.2 926.3 319.9 927.8 318.7 929.4 317.6 931.1 316.8 932.9 316.2 934.8 315.8 936.7 315.6 938.7 315.6 940.7 315.5 942.6 315.5 944.6 315.5 946.6 315.4 948.6 315.3 950.6 315.1 952.5 314.8 954.5 314.5 956.4 314.4 958.3 314.4 960.2 314.6 962.0 315.2 963.7 316.0 965.3 317.0 966.9 318.1 968.5 319.3 970.1 320.6 971.7 321.7 973.3 322.9 975.0 324.0 976.7 324.9 978.4 325.9 980.2 326.7 982.0 327.6 983.8 328.4 985.6 329.3 987.4 330.2 989.0 331.3 990.7 332.4 992.2 333.6 993.8 334.9 995.3 336.3 996.7 337.6 998.2 339.0 999.7 340.3 1001.1 341.7 1002.5 343.1 1003.9 344.5 1005.3 346.0 1006.6 347.5 1007.9 348.9 1009.3 350.4 1010.7 351.7 1012.2 353.0 1013.7 354.3 1015.3 355.6 1016.8 356.9 1018.3 358.2 1019.8 359.5 1021.4 360.8 1022.9 362.1 1024.4 363.4 1025.9 364.7 1027.4 366.0 1028.9 367.3 1030.4 368.6 1031.9 370.0 1033.5 371.3 1035.0 372.6 1036.5 373.9 1038.0 375.2 1039.5 376.5 1041.0 377.8 1042.5 379.1 1044.0 380.4 1045.5 381.7 1047.0 383.1 1048.5 384.4 1050.0 385.8 1051.4 387.2 1052.8 388.6 1054.2 390.0 1055.6 391.5 1057.0 392.9 1058.4 394.3 1059.8 395.7 1061.3 397.0 1062.8 398.3 1064.4 399.6 1066.0 400.8 1067.6 402.0 1069.2 403.1 1070.9 404.2 1072.5 405.4 1074.2 406.5 1075.8 407.7 1077.4 408.8 1079.0 410.1 1080.5 411.4 1081.9 412.8 1083.2 414.2 1084.5 415.7 1085.7 417.3 1087.0 418.9 1088.2 420.4 1089.5 421.9 1090.8 423.4 1092.2 424.9 1093.5 426.3 1094.8 427.9 1096.0 429.4 1097.1 431.1 1098.2 432.7 1099.3 434.4 1100.3 436.1 1101.4 437.8 1102.4 439.6 1103.4 441.3 1104.4 443.0 1105.5 444.7 1106.5 446.4 1107.5 448.1 1108.6 449.8 1109.6 451.5 1110.7 453.2 1111.7 454.9 1112.8 456.7 1113.8 458.4 1114.8 460.1 1115.8 461.8 1116.7 463.6 1117.7 465.3 1118.7 467.1 1119.7 468.8 1120.7 470.6 1121.6 472.3 1122.6 474.1 1123.5 475.8 1124.4 477.6 1125.3 479.4 1126.1 481.2 1126.9 483.1 1127.6 484.9 1128.4 486.8 1129.1 488.6 1129.9 490.5 1130.6 492.3 1131.4 494.2 1132.2 496.0 1133.0 497.8 1133.8 499.7 1134.6 501.5 1135.5 503.3 1136.3 505.1 1137.1 507.0 1137.8 508.8 1138.6 510.7 1139.3 512.6 1139.9 514.4 1140.6 516.3 1141.2 518.2 1141.8 520.1 1142.5 522.0 1143.1 523.9 1143.7 525.8 1144.4 527.7 1145.0 529.6 1145.6 531.5 1146.3 533.4 1146.9 535.3 1147.5 537.2 1148.2 539.1 1148.8 541.0 1149.4 542.9 1150.0 544.8 1150.5 546.7 1151.1 548.7 1151.7 550.6 1152.2 552.5 1152.8 554.4 1153.3 556.3 1153.9 558.3 1154.4 560.2 1154.9 562.1 1155.5 564.1 1156.0 566.0 1156.6 567.9 1157.1 569.8 1157.6 571.8 1158.2 573.7 1158.7 575.6 1159.2 577.5 1159.8 579.5 1160.3 581.4 1160.8 583.3 1161.4 585.3 1161.9 587.2 1162.4 589.1 1163.0 591.0 1163.5 593.0 1164.0 594.9 1164.6 596.8 1165.1 598.7 1165.6 600.7 1166.2 602.6 1166.7 604.5 1167.2 606.5 1167.8 608.4 1168.3 610.3 1168.8 612.2 1169.4 614.2 1169.9 616.1 1170.4 618.0 1171.0 619.9 1171.5 621.9 1172.0 623.8 1172.6 625.7 1173.1 627.7 1173.6 629.6 1174.2 631.5 1174.7 633.4 1175.2 635.4 1175.8 637.3 1176.3 639.2 1176.8 641.2 1177.4 643.1 1177.9 645.0 1178.4 646.9 1179.0 648.9 1179.5 650.8 1180.0 652.7 1180.6 654.6 1181.1 656.6 1181.6 658.5 1182.2 660.4 1182.7 662.4 1183.2 664.3 1183.8 666.2 1184.3 668.1 1184.8 670.1 1185.4 672.0 1185.9 673.9 1186.4 675.8 1187.0 677.8 1187.5 679.7 1188.1 681.6 1188.6 683.5 1189.1 685.5 1189.7 687.4 1190.2 689.3 1190.8 691.2 1191.3 693.2 1191.9 695.1 1192.4 697.0 1193.0 698.9 1193.6 700.8 1194.1 702.8 1194.7 704.7 1195.2 706.6 1195.8 708.5 1196.4 710.4 1196.9 712.4 1197.5 714.3 1198.1 716.2 1198.6 718.1 1199.2 720.0 1199.8 722.0 1200.3 723.9 1200.9 725.8 1201.5 727.7 1202.0 729.6 1202.6 731.5 1203.2 733.5 1203.7 735.4 1204.3 737.3 1204.9 739.2 1205.5 741.1 1206.0 743.0 1206.6 745.0 1207.2 746.9 1207.7 748.8 1208.3 750.7 1208.9 752.6 1209.4 754.5 1210.0 756.5 1210.6 758.4 1211.2 760.3 1211.7 762.2 1212.3 764.1 1212.8 766.1 1213.4 768.0 1214.0 769.9 1214.5 771.8 1215.1 773.7 1215.6 775.7 1216.2 777.6 1216.7 779.5 1217.2 781.4 1217.8 783.4 1218.3 785.3 1218.8 787.2 1219.3 789.2 1219.8 791.1 1220.3 793.0 1220.8 795.0 1221.3 796.9 1221.8 798.8 1222.4 800.8 1222.9 802.7 1223.4 804.6 1223.9 806.6 1224.5 808.5 1225.0 810.4 1225.6 812.3 1226.1 814.3 1226.7 816.2 1227.3 818.1 1227.9 820.0 1228.5 821.9 1229.1 823.8 1229.8 825.7 1230.5 827.6 1231.1 829.4 1231.8 831.3 1232.5 833.2 1233.3 835.1 1234.0 836.9 1234.7 838.8 1235.5 840.6 1236.2 842.5 1236.9 844.4 1237.7 846.2 1238.4 848.1 1239.1 849.9 1239.9 851.8 1240.6 853.7 1241.3 855.6 1241.9 857.4 1242.6 859.3 1243.2 861.2 1243.9 863.1 1244.5 865.0 1245.1 866.9 1245.6 868.8 1246.2 870.8 1246.7 872.7 1247.3 874.6 1247.8 876.6 1248.3 878.5 1248.8 880.4 1249.3 882.3 1249.8 884.3 1250.4 886.2 1250.9 888.1 1251.4 890.1 1252.0 892.0 1252.6 893.9 1253.3 895.8 1254.0 897.6 1254.8 899.4 1255.7 901.2 1256.6 903.0 1257.6 904.7 1258.6 906.4 1259.6 908.1 1260.6 909.9 1261.5 911.7 1262.4 913.4 1263.3 915.2 1264.1 917.0 1265.0 918.8 1265.8 920.6 1266.7 922.4 1267.7 924.2 1268.6 926.0 1269.6 927.7 1270.6 929.4 1271.6 931.1 1272.7 932.9 1273.7 934.6 1274.7 936.3 1275.8 937.9 1276.9 939.6 1278.1 941.2 1279.2 942.9 1280.3 944.6 1281.3 946.3 1282.3 948.0 1283.3 949.7 1284.3 951.5 1285.2 953.3 1286.2 955.0 1287.1 956.7 1288.2 958.4 1289.3 960.1 1290.4 961.7 1291.6 963.3 1292.9 964.9 1294.1 966.5 1295.3 968.1 1296.5 969.7 1297.7 971.2 1298.9 972.8 1300.2 974.4 1301.4 975.9 1302.7 977.5 1303.9 979.1 1305.0 980.7 1306.2 982.3 1307.3 984.0 1308.4 985.6 1309.6 987.3 1310.7 988.9 1312.0 990.4 1313.3 991.9 1314.6 993.4 1316.1 994.8 1317.5 996.1 1319.0 997.5 1320.5 998.8 1322.1 1000.0 1323.6 1001.3 1325.2 1002.6 1326.8 1003.8 1328.4 1004.9 1330.1 1006.0 1331.8 1007.0 1333.5 1007.9 1335.3 1008.8 1337.2 1009.5 1339.0 1010.2 1340.9 1010.9 1342.8 1011.5 1344.8 1012.0 1346.7 1012.5 1348.6 1013.0 1350.6 1013.5 1352.5 1014.0 1354.5 1014.4 1356.4 1014.8 1358.4 1015.2 1360.3 1015.6 1362.3 1016.0 1364.3 1016.4 1366.2 1016.7 1368.2 1017.1 1370.2 1017.4 1372.1 1017.7 1374.1 1018.0 1376.1 1018.3 1378.1 1018.6 1380.1 1018.8 1382.1 1019.0 1384.1 1019.2 1386.0 1019.3 1388.0 1019.5 1390.0 1019.6 1392.0 1019.7 1394.0 1019.8 1396.0 1019.8 1398.0 1019.9 1400.0 1020.0 1402.0 1020.1 1404.0 1020.1 1406.0 1020.2 1408.0 1020.3 1410.0 1020.3 1412.0 1020.4 1414.0 1020.5 1416.0 1020.5 1418.0 1020.6 1420.0 1020.6 1422.0 1020.6 1424.0 1020.7 1426.0 1020.7 1428.0 1020.8 1430.0 1020.8 1431.8 1020.8 1433.6 1020.9 1435.1 1020.9 1436.2 1020.9" fill="none" stroke="#bea8ae" stroke-width="3.2" stroke-linejoin="round" stroke-linecap="round"/>
<path d="M138.6 993.8 L139.6 994.4 141.0 995.0 142.5 995.8 144.2 996.7 145.9 997.6 147.7 998.5 149.5 999.3 151.3 1000.2 153.1 1001.1 154.9 1001.9 156.7 1002.7 158.5 1003.6 160.4 1004.4 162.2 1005.1 164.1 1005.9 165.9 1006.7 167.8 1007.4 169.6 1008.1 171.5 1008.8 173.4 1009.4 175.3 1010.0 177.2 1010.6 179.2 1011.1 181.1 1011.6 183.1 1012.0 185.0 1012.4 187.0 1012.8 188.9 1013.1 190.9 1013.4 192.9 1013.7 194.9 1013.9 196.9 1014.1 198.9 1014.2 200.9 1014.3 202.9 1014.3 204.8 1014.3 206.8 1014.1 208.8 1013.8 210.7 1013.3 212.5 1012.7 214.3 1011.9 216.1 1011.0 217.7 1009.9 219.4 1008.8 221.0 1007.6 222.5 1006.3 224.0 1005.0 225.6 1003.7 227.1 1002.5 228.6 1001.2 230.2 999.9 231.7 998.6 233.3 997.4 234.8 996.1 236.4 994.9 238.0 993.7 239.6 992.5 241.3 991.4 243.0 990.4 244.7 989.5 246.5 988.6 248.4 987.9 250.2 987.3 252.2 986.7 254.1 986.3 256.1 985.9 258.0 985.6 260.0 985.3 262.0 985.1 264.0 984.9 266.0 984.7 268.0 984.6 270.0 984.5 272.0 984.4 274.0 984.4 276.0 984.3 278.0 984.3 280.0 984.2 282.0 984.2 284.0 984.1 286.0 984.1 288.0 984.1 290.0 984.0 292.0 984.0 294.0 983.9 296.0 983.9 298.0 983.8 300.0 983.8 302.0 983.7 304.0 983.7 306.0 983.6 308.0 983.6 310.0 983.5 311.9 983.4 313.9 983.3 315.9 983.2 317.9 983.1 319.9 983.0 321.9 982.8 323.9 982.6 325.9 982.4 327.9 982.2 329.9 982.0 331.9 981.7 333.9 981.5 335.8 981.2 337.8 981.0 339.8 980.7 341.8 980.4 343.7 980.0 345.7 979.7 347.7 979.4 349.7 979.0 351.6 978.7 353.6 978.3 355.5 977.9 357.5 977.5 359.5 977.1 361.4 976.6 363.4 976.2 365.3 975.7 367.3 975.2 369.2 974.8 371.1 974.3 373.1 973.8 375.0 973.3 376.9 972.8 378.9 972.3 380.8 971.8 382.7 971.3 384.7 970.8 386.6 970.2 388.5 969.7 390.5 969.2 392.4 968.7 394.3 968.1 396.2 967.6 398.2 967.0 400.1 966.4 402.0 965.8 403.9 965.2 405.8 964.5 407.6 963.8 409.5 963.1 411.4 962.3 413.2 961.5 415.0 960.7 416.8 959.9 418.6 959.0 420.4 958.1 422.2 957.1 423.9 956.2 425.7 955.2 427.4 954.3 429.2 953.3 430.9 952.3 432.6 951.3 434.4 950.3 436.1 949.4 437.9 948.4 439.6 947.4 441.3 946.4 443.1 945.4 444.8 944.4 446.5 943.4 448.3 942.4 450.0 941.3 451.7 940.3 453.4 939.3 455.2 938.4 456.9 937.4 458.7 936.4 460.4 935.4 462.2 934.5 463.9 933.5 465.7 932.5 467.4 931.6 469.2 930.6 470.9 929.6 472.6 928.6 474.4 927.6 476.1 926.5 477.8 925.5 479.5 924.5 481.2 923.4 482.9 922.3 484.5 921.2 486.2 920.1 487.9 919.0 489.5 917.9 491.2 916.8 492.8 915.7 494.5 914.5 496.1 913.3 497.7 912.2 499.3 911.0 500.9 909.8 502.5 908.6 504.1 907.4 505.7 906.1 507.2 904.9 508.8 903.6 510.3 902.3 511.8 901.0 513.4 899.7 514.9 898.4 516.4 897.1 517.9 895.8 519.4 894.5 520.9 893.2 522.4 891.9 523.9 890.5 525.4 889.2 526.9 887.9 528.4 886.5 529.9 885.2 531.3 883.8 532.7 882.4 534.1 880.9 535.5 879.5 536.9 878.1 538.3 876.6 539.6 875.2 541.1 873.7 542.5 872.3 543.9 870.9 545.2 869.4 546.6 868.0 547.8 866.4 549.1 864.9 550.3 863.3 551.5 861.7 552.7 860.1 553.9 858.5 555.2 857.0 556.6 855.6 558.1 854.3 559.6 853.0 561.1 851.8 562.7 850.5 564.3 849.3 565.9 848.1 567.4 846.8 568.9 845.5 570.3 844.1 571.7 842.6 573.0 841.1 574.3 839.6 575.5 838.0 576.6 836.4 577.7 834.7 578.9 833.1 579.9 831.4 581.1 829.7 582.2 828.1 583.3 826.4 584.4 824.8 585.6 823.2 586.8 821.6 588.0 820.0 589.2 818.4 590.5 816.8 591.7 815.2 592.9 813.7 594.2 812.1 595.5 810.6 596.8 809.1 598.1 807.6 599.4 806.1 600.8 804.6 602.1 803.0 603.3 801.5 604.6 799.9 605.8 798.4 607.0 796.7 608.1 795.1 609.2 793.4 610.3 791.8 611.3 790.0 612.3 788.3 613.3 786.6 614.2 784.8 615.1 783.0 616.0 781.2 616.9 779.5 617.8 777.7 618.7 775.9 619.6 774.1 620.5 772.3 621.4 770.5 622.3 768.7 623.2 766.9 624.1 765.1 625.0 763.3 625.9 761.6 626.7 759.8 627.6 758.0 628.5 756.2 629.4 754.4 630.3 752.6 631.2 750.8 632.1 749.0 633.0 747.3 634.0 745.5 634.9 743.7 635.9 742.0 636.8 740.2 637.8 738.5 638.8 736.8 639.9 735.0 640.9 733.3 642.0 731.6 643.0 729.9 644.1 728.3 645.2 726.6 646.3 724.9 647.4 723.2 648.5 721.6 649.6 719.9 650.7 718.2 651.8 716.6 652.9 714.9 654.0 713.2 655.1 711.5 656.2 709.9 657.3 708.2 658.3 706.5 659.4 704.8 660.4 703.1 661.4 701.4 662.4 699.6 663.3 697.8 664.1 696.0 665.0 694.2 665.8 692.4 666.6 690.6 667.4 688.7 668.2 686.9 668.9 685.0 669.7 683.2 670.5 681.3 671.3 679.5 672.0 677.7 672.8 675.8 673.6 674.0 674.4 672.1 675.2 670.3 676.0 668.5 676.8 666.6 677.6 664.8 678.4 663.0 679.2 661.2 680.0 659.3 680.8 657.5 681.7 655.7 682.5 653.8 683.3 652.0 684.1 650.2 684.9 648.4 685.7 646.5 686.5 644.7 687.3 642.8 688.1 641.0 688.9 639.2 689.6 637.3 690.4 635.5 691.2 633.7 692.0 631.8 692.8 630.0 693.6 628.2 694.4 626.3 695.2 624.5 696.1 622.7 696.9 620.9 697.8 619.1 698.6 617.3 699.5 615.5 700.4 613.7 701.3 611.9 702.2 610.1 703.1 608.3 704.1 606.6 705.0 604.8 705.9 603.0 706.8 601.2 707.6 599.4 708.5 597.6 709.4 595.8 710.2 594.0 711.0 592.2 711.9 590.3 712.7 588.5 713.5 586.7 714.3 584.9 715.1 583.0 716.0 581.2 716.8 579.4 717.6 577.6 718.5 575.8 719.3 574.0 720.2 572.2 721.1 570.4 722.1 568.6 723.0 566.9 724.0 565.1 724.9 563.4 725.9 561.6 726.7 559.8 727.6 558.0 728.5 556.2 729.3 554.4 730.2 552.6 731.0 550.8 731.8 548.9 732.7 547.1 733.5 545.3 734.3 543.5 735.1 541.6 735.9 539.8 736.7 538.0 737.5 536.1 738.3 534.3 739.1 532.5 739.8 530.6 740.6 528.8 741.3 526.9 742.1 525.0 742.8 523.2 743.5 521.3 744.2 519.4 744.9 517.6 745.6 515.7 746.2 513.8 746.9 511.9 747.6 510.0 748.2 508.1 748.9 506.2 749.5 504.3 750.1 502.4 750.8 500.6 751.4 498.7 752.1 496.8 752.7 494.9 753.4 493.0 754.0 491.1 754.7 489.2 755.3 487.3 756.0 485.4 756.7 483.5 757.3 481.7 758.0 479.8 758.7 477.9 759.4 476.0 760.1 474.2 760.9 472.3 761.6 470.4 762.4 468.6 763.1 466.7 763.9 464.9 764.7 463.1 765.5 461.2 766.3 459.4 767.1 457.6 767.9 455.7 768.7 453.9 769.6 452.1 770.4 450.3 771.3 448.5 772.1 446.7 773.0 444.9 773.8 443.1 774.7 441.3 775.6 439.4 776.4 437.6 777.3 435.8 778.1 434.0 779.0 432.2 779.8 430.4 780.7 428.6 781.5 426.8 782.4 425.0 783.2 423.2 784.1 421.4 784.9 419.5 785.8 417.7 786.6 415.9 787.5 414.1 788.3 412.3 789.2 410.5 790.1 408.7 790.9 406.9 791.8 405.1 792.7 403.3 793.5 401.5 794.4 399.7 795.3 397.9 796.2 396.1 797.1 394.3 798.0 392.5 798.9 390.7 799.8 388.9 800.7 387.2 801.6 385.4 802.5 383.6 803.4 381.8 804.4 380.1 805.3 378.3 806.2 376.5 807.2 374.8 808.1 373.0 809.1 371.2 810.0 369.5 811.0 367.7 811.9 366.0 812.8 364.2 813.7 362.4 814.7 360.6 815.6 358.9 816.5 357.1 817.4 355.3 818.3 353.5 819.1 351.7 820.0 349.9 820.8 348.1 821.7 346.3 822.5 344.4 823.4 342.6 824.2 340.8 825.0 339.0 825.9 337.2 826.7 335.4 827.5 333.5 828.4 331.7 829.2 329.9 830.1 328.1 831.0 326.3 831.9 324.5 832.8 322.8 833.7 321.0 834.6 319.2 835.6 317.4 836.5 315.7 837.5 313.9 838.5 312.2 839.4 310.4 840.4 308.7 841.4 306.9 842.4 305.2 843.3 303.4 844.3 301.7 845.2 299.9 846.1 298.1 847.1 296.4 847.9 294.6 848.8 292.8 849.7 291.0 850.5 289.2 851.4 287.3 852.2 285.5 853.0 283.7 853.8 281.9 854.6 280.0 855.4 278.2 856.3 276.4 857.1 274.6 858.0 272.8 858.8 271.0 859.8 269.3 860.8 267.6 861.9 265.9 863.0 264.3 864.1 262.7 865.2 261.1 866.2 259.4 867.3 257.7 868.4 256.1 869.5 254.4 870.7 252.9 871.9 251.3 873.1 249.7 874.3 248.1 875.5 246.5 876.6 244.8 877.6 243.1 878.6 241.4 879.6 239.6 880.5 237.8 881.4 236.1 882.2 234.3 883.2 232.5 884.1 230.7 885.1 229.0 886.1 227.3 887.2 225.6 888.3 223.9 889.4 222.3 890.5 220.6 891.6 219.0 892.8 217.3 893.9 215.7 895.0 214.0 896.0 212.3 897.0 210.6 898.0 208.8 898.9 207.0 899.7 205.2 900.6 203.4 901.4 201.6 902.3 199.8 903.3 198.1 904.3 196.4 905.5 194.8 906.7 193.3 908.1 191.8 909.5 190.4 910.9 189.1 912.4 187.7 913.9 186.3 915.3 185.0 916.7 183.6 918.2 182.2 919.6 180.7 921.0 179.3 922.4 177.9 923.7 176.4 925.0 175.0 926.3 173.4 927.5 171.9 928.7 170.3 930.0 168.9 931.3 167.5 932.8 166.4 934.5 165.5 936.2 164.8 938.1 164.4 940.0 164.1 942.0 163.9 944.0 163.8 946.0 163.8 948.0 163.8 950.0 163.8 952.0 163.8 954.0 163.8 956.0 163.8 958.0 163.8 960.0 163.8 962.0 163.8 963.9 164.0 965.8 164.2 967.7 164.7 969.3 165.4 970.9 166.4 972.2 167.6 973.5 169.0 974.8 170.5 976.0 172.0 977.4 173.5 978.8 174.9 980.2 176.3 981.6 177.7 983.1 179.1 984.5 180.5 985.9 181.9 987.4 183.3 988.8 184.7 990.2 186.1 991.6 187.5 993.0 188.9 994.4 190.3 995.8 191.8 997.2 193.2 998.6 194.6 1000.0 196.1 1001.4 197.5 1002.7 199.0 1004.1 200.4 1005.5 201.9 1006.8 203.4 1008.2 204.9 1009.5 206.4 1010.8 207.9 1012.1 209.4 1013.4 211.0 1014.6 212.5 1015.9 214.1 1017.1 215.6 1018.4 217.2 1019.6 218.8 1020.8 220.3 1022.1 221.9 1023.4 223.4 1024.6 225.0 1025.9 226.5 1027.2 228.1 1028.4 229.6 1029.7 231.1 1031.0 232.7 1032.4 234.2 1033.7 235.7 1035.0 237.1 1036.4 238.6 1037.7 240.1 1039.1 241.6 1040.5 243.0 1041.8 244.5 1043.2 245.9 1044.6 247.3 1046.0 248.7 1047.5 250.1 1048.9 251.5 1050.4 252.9 1051.9 254.2 1053.4 255.4 1055.0 256.7 1056.6 257.9 1058.1 259.2 1059.7 260.4 1061.2 261.7 1062.6 263.1 1064.0 264.5 1065.4 266.0 1066.7 267.5 1068.0 269.0 1069.2 270.6 1070.5 272.1 1071.7 273.7 1073.0 275.3 1074.2 276.8 1075.5 278.4 1076.8 279.9 1078.1 281.4 1079.4 282.9 1080.7 284.5 1082.0 286.0 1083.3 287.5 1084.5 289.1 1085.8 290.6 1087.1 292.2 1088.3 293.7 1089.5 295.3 1090.7 296.9 1091.9 298.5 1093.1 300.1 1094.3 301.7 1095.4 303.4 1096.6 305.0 1097.7 306.7 1098.8 308.3 1099.9 310.0 1101.0 311.7 1102.0 313.4 1103.0 315.1 1104.1 316.8 1105.1 318.6 1106.0 320.3 1107.0 322.1 1108.0 323.8 1108.9 325.6 1109.8 327.4 1110.8 329.1 1111.7 330.9 1112.5 332.7 1113.4 334.5 1114.2 336.3 1115.1 338.1 1115.9 340.0 1116.7 341.8 1117.5 343.7 1118.2 345.5 1119.0 347.4 1119.7 349.2 1120.5 351.1 1121.2 352.9 1121.9 354.8 1122.6 356.7 1123.3 358.5 1124.0 360.4 1124.7 362.3 1125.4 364.2 1126.1 366.0 1126.8 367.9 1127.5 369.8 1128.1 371.7 1128.8 373.6 1129.4 375.5 1130.0 377.4 1130.6 379.3 1131.1 381.2 1131.7 383.1 1132.2 385.1 1132.7 387.0 1133.2 388.9 1133.7 390.9 1134.2 392.8 1134.6 394.8 1135.1 396.7 1135.6 398.6 1136.2 400.6 1136.7 402.5 1137.3 404.4 1137.9 406.3 1138.5 408.2 1139.2 410.1 1139.8 412.0 1140.4 413.9 1141.0 415.8 1141.5 417.7 1142.1 419.7 1142.7 421.6 1143.3 423.5 1143.9 425.4 1144.6 427.3 1145.2 429.2 1145.8 431.1 1146.5 433.0 1147.1 434.9 1147.6 436.8 1148.2 438.7 1148.7 440.6 1149.2 442.6 1149.7 444.5 1150.2 446.4 1150.7 448.4 1151.2 450.3 1151.7 452.3 1152.1 454.2 1152.6 456.1 1153.1 458.1 1153.6 460.0 1154.0 462.0 1154.5 463.9 1154.9 465.9 1155.3 467.8 1155.8 469.8 1156.2 471.7 1156.6 473.7 1157.0 475.6 1157.5 477.5 1158.0 479.4 1158.6 481.3 1159.2 483.1 1159.7 485.0 1160.3 486.9 1160.8 488.8 1161.3 490.7 1161.7 492.7 1162.2 494.6 1162.6 496.6 1163.1 498.5 1163.5 500.5 1164.0 502.4 1164.4 504.4 1164.9 506.3 1165.3 508.3 1165.8 510.2 1166.2 512.2 1166.6 514.1 1167.1 516.1 1167.5 518.0 1167.9 520.0 1168.4 521.9 1168.8 523.9 1169.2 525.8 1169.6 527.8 1170.0 529.8 1170.4 531.7 1170.8 533.7 1171.2 535.6 1171.7 537.6 1172.1 539.5 1172.5 541.5 1172.9 543.4 1173.4 545.4 1173.8 547.3 1174.3 549.3 1174.7 551.2 1175.1 553.2 1175.6 555.2 1176.0 557.1 1176.4 559.1 1176.8 561.0 1177.2 563.0 1177.6 564.9 1177.9 566.9 1178.3 568.9 1178.7 570.8 1179.1 572.8 1179.4 574.8 1179.8 576.7 1180.3 578.7 1180.7 580.6 1181.2 582.6 1181.6 584.5 1182.1 586.5 1182.6 588.4 1183.1 590.3 1183.6 592.3 1184.1 594.2 1184.5 596.2 1184.9 598.1 1185.3 600.1 1185.7 602.0 1186.1 604.0 1186.4 606.0 1186.8 607.9 1187.2 609.9 1187.5 611.9 1187.9 613.8 1188.4 615.8 1188.8 617.7 1189.3 619.7 1189.8 621.6 1190.3 623.5 1190.8 625.5 1191.4 627.4 1191.9 629.3 1192.4 631.3 1192.9 633.2 1193.4 635.2 1193.8 637.1 1194.3 639.0 1194.7 641.0 1195.1 642.9 1195.6 644.9 1196.0 646.9 1196.4 648.8 1196.9 650.8 1197.3 652.7 1197.7 654.7 1198.1 656.6 1198.6 658.6 1199.0 660.5 1199.4 662.5 1199.8 664.4 1200.2 666.4 1200.7 668.4 1201.1 670.3 1201.5 672.3 1202.0 674.2 1202.4 676.2 1202.8 678.1 1203.2 680.1 1203.7 682.0 1204.1 684.0 1204.6 685.9 1205.0 687.9 1205.4 689.8 1205.9 691.8 1206.3 693.7 1206.8 695.7 1207.2 697.6 1207.7 699.6 1208.2 701.5 1208.6 703.5 1209.1 705.4 1209.5 707.4 1210.0 709.3 1210.5 711.2 1210.9 713.2 1211.4 715.1 1211.9 717.1 1212.4 719.0 1212.8 721.0 1213.3 722.9 1213.8 724.9 1214.2 726.8 1214.7 728.7 1215.1 730.7 1215.6 732.6 1216.1 734.6 1216.5 736.5 1217.0 738.5 1217.4 740.4 1217.9 742.4 1218.3 744.3 1218.7 746.3 1219.2 748.2 1219.6 750.2 1220.1 752.1 1220.5 754.1 1220.9 756.0 1221.4 758.0 1221.8 759.9 1222.3 761.9 1222.7 763.8 1223.2 765.8 1223.7 767.7 1224.1 769.7 1224.6 771.6 1225.1 773.6 1225.6 775.5 1226.1 777.4 1226.6 779.4 1227.1 781.3 1227.6 783.2 1228.1 785.2 1228.6 787.1 1229.2 789.0 1229.7 791.0 1230.2 792.9 1230.8 794.8 1231.3 796.7 1231.8 798.7 1232.4 800.6 1232.9 802.5 1233.5 804.4 1234.0 806.4 1234.6 808.3 1235.1 810.2 1235.7 812.1 1236.3 814.0 1236.8 816.0 1237.4 817.9 1238.0 819.8 1238.5 821.7 1239.1 823.6 1239.7 825.5 1240.3 827.5 1240.8 829.4 1241.4 831.3 1242.0 833.2 1242.6 835.1 1243.2 837.0 1243.8 838.9 1244.5 840.8 1245.1 842.7 1245.7 844.6 1246.3 846.5 1246.9 848.4 1247.5 850.3 1248.1 852.2 1248.7 854.2 1249.3 856.1 1249.9 858.0 1250.4 859.9 1251.0 861.8 1251.6 863.7 1252.2 865.6 1252.7 867.6 1253.3 869.5 1253.8 871.4 1254.4 873.3 1254.9 875.3 1255.4 877.2 1256.0 879.1 1256.5 881.0 1257.0 883.0 1257.6 884.9 1258.1 886.8 1258.7 888.7 1259.2 890.7 1259.8 892.6 1260.5 894.4 1261.1 896.3 1261.9 898.1 1262.7 899.9 1263.6 901.7 1264.4 903.5 1265.3 905.2 1266.2 907.0 1267.0 908.8 1267.8 910.7 1268.7 912.5 1269.5 914.3 1270.3 916.1 1271.2 917.9 1272.1 919.7 1273.0 921.5 1273.9 923.3 1274.8 925.0 1275.8 926.8 1276.8 928.5 1277.8 930.2 1278.8 932.0 1279.7 933.7 1280.7 935.5 1281.5 937.3 1282.4 939.1 1283.3 940.9 1284.1 942.7 1285.0 944.5 1285.9 946.3 1286.9 948.0 1287.9 949.8 1288.9 951.5 1289.9 953.2 1291.0 954.9 1292.0 956.6 1293.1 958.3 1294.3 959.9 1295.4 961.5 1296.7 963.1 1297.9 964.7 1299.2 966.2 1300.5 967.7 1301.8 969.2 1303.1 970.7 1304.4 972.2 1305.8 973.7 1307.2 975.1 1308.5 976.6 1309.9 978.1 1311.3 979.5 1312.7 980.9 1314.1 982.3 1315.6 983.7 1317.0 985.0 1318.5 986.4 1319.9 987.8 1321.3 989.2 1322.8 990.6 1324.2 991.9 1325.8 993.2 1327.4 994.4 1329.0 995.5 1330.7 996.6 1332.4 997.6 1334.0 998.6 1335.7 999.7 1337.4 1000.8 1339.0 1001.9 1340.6 1003.0 1342.3 1004.1 1344.1 1005.0 1345.8 1006.0 1347.6 1006.8 1349.4 1007.7 1351.3 1008.5 1353.1 1009.2 1355.0 1009.9 1356.9 1010.6 1358.8 1011.2 1360.7 1011.8 1362.6 1012.3 1364.6 1012.8 1366.5 1013.2 1368.5 1013.6 1370.4 1014.0 1372.4 1014.4 1374.3 1014.8 1376.3 1015.2 1378.3 1015.6 1380.2 1016.0 1382.2 1016.4 1384.1 1016.8 1386.1 1017.1 1388.1 1017.4 1390.1 1017.7 1392.0 1017.9 1394.0 1018.1 1396.0 1018.3 1398.0 1018.4 1400.0 1018.5 1402.0 1018.6 1404.0 1018.8 1406.0 1018.9 1408.0 1018.9 1410.0 1019.0 1412.0 1019.1 1414.0 1019.2 1416.0 1019.3 1418.0 1019.4 1420.0 1019.4 1422.0 1019.5 1424.0 1019.5 1426.0 1019.6 1428.0 1019.6 1430.0 1019.6 1431.9 1019.6 1433.7 1019.6 1435.3 1019.5 1436.7 1019.5 1437.2 1019.5" fill="none" stroke="#656565" stroke-width="3.4" stroke-linejoin="round" stroke-linecap="round"/>
<path d="M1369.8 1016.2 L1370.9 1016.4 1372.4 1016.6 1374.1 1016.8 1376.0 1017.0 1377.9 1017.2 1379.9 1017.5 1381.9 1017.7 1383.9 1017.9 1385.9 1018.0 1387.9 1018.2 1389.9 1018.4 1391.9 1018.5 1393.9 1018.6 1395.9 1018.8 1397.8 1018.9 1399.8 1019.0 1401.8 1019.1 1403.8 1019.1 1405.8 1019.2 1407.8 1019.3 1409.8 1019.3 1411.8 1019.4 1413.8 1019.4 1415.8 1019.5 1417.8 1019.5 1419.8 1019.6 1421.8 1019.6 1423.8 1019.7 1425.8 1019.7 1427.8 1019.8 1429.8 1019.8 1431.7 1019.8 1433.5 1019.9 1435.2 1019.9 1436.5 1019.9 1437.1 1020.0" fill="none" stroke="#4a3048" stroke-width="3.6" stroke-linejoin="round" stroke-linecap="round"/>
<path d="M955.5 165.0 L950.0 312.0 L945.0 441.0 L935.0 667.0 L928.0 765.0 L921.0 887.0 L912.0 992.0" fill="none" stroke="#999999" stroke-width="3" stroke-dasharray="5 7"/>
<rect x="133.8" y="62" width="4" height="972" fill="#4c4c4c"/>
<rect x="137.8" y="66" width="3.8" height="988" fill="#c4c4c4"/>
<rect x="1438" y="66" width="4" height="968" fill="#404040"/>
<rect x="1442" y="66" width="3.6" height="988" fill="#b0b0b0"/>
<rect x="114" y="62.2" width="1328" height="3.8" fill="#999999"/>
<rect x="114" y="66" width="1328" height="3.8" fill="#777777"/>
<rect x="114" y="1030.2" width="1328" height="3.8" fill="#4a4048"/>
<rect x="114" y="1034" width="1331" height="3.6" fill="#c4bcc8"/>
<rect x="122.0" y="122.4" width="12.0" height="3.8" fill="#bbbbbb"/>
<rect x="122.0" y="126.4" width="12.0" height="3.8" fill="#555555"/>
<rect x="114.0" y="182.8" width="20.0" height="3.8" fill="#bbbbbb"/>
<rect x="114.0" y="186.8" width="20.0" height="3.8" fill="#555555"/>
<rect x="122.0" y="243.1" width="12.0" height="3.8" fill="#bbbbbb"/>
<rect x="122.0" y="247.1" width="12.0" height="3.8" fill="#555555"/>
<rect x="114.0" y="303.5" width="20.0" height="3.8" fill="#bbbbbb"/>
<rect x="114.0" y="307.5" width="20.0" height="3.8" fill="#555555"/>
<rect x="122.0" y="363.9" width="12.0" height="3.8" fill="#bbbbbb"/>
<rect x="122.0" y="367.9" width="12.0" height="3.8" fill="#555555"/>
<rect x="114.0" y="424.2" width="20.0" height="3.8" fill="#bbbbbb"/>
<rect x="114.0" y="428.2" width="20.0" height="3.8" fill="#555555"/>
<rect x="122.0" y="484.6" width="12.0" height="3.8" fill="#bbbbbb"/>
<rect x="122.0" y="488.6" width="12.0" height="3.8" fill="#555555"/>
<rect x="114.0" y="545.0" width="20.0" height="3.8" fill="#bbbbbb"/>
<rect x="114.0" y="549.0" width="20.0" height="3.8" fill="#555555"/>
<rect x="122.0" y="605.4" width="12.0" height="3.8" fill="#bbbbbb"/>
<rect x="122.0" y="609.4" width="12.0" height="3.8" fill="#555555"/>
<rect x="114.0" y="665.8" width="20.0" height="3.8" fill="#bbbbbb"/>
<rect x="114.0" y="669.8" width="20.0" height="3.8" fill="#555555"/>
<rect x="122.0" y="726.1" width="12.0" height="3.8" fill="#bbbbbb"/>
<rect x="122.0" y="730.1" width="12.0" height="3.8" fill="#555555"/>
<rect x="114.0" y="786.5" width="20.0" height="3.8" fill="#bbbbbb"/>
<rect x="114.0" y="790.5" width="20.0" height="3.8" fill="#555555"/>
<rect x="122.0" y="846.9" width="12.0" height="3.8" fill="#bbbbbb"/>
<rect x="122.0" y="850.9" width="12.0" height="3.8" fill="#555555"/>
<rect x="114.0" y="907.2" width="20.0" height="3.8" fill="#bbbbbb"/>
<rect x="114.0" y="911.2" width="20.0" height="3.8" fill="#555555"/>
<rect x="122.0" y="967.6" width="12.0" height="3.8" fill="#bbbbbb"/>
<rect x="122.0" y="971.6" width="12.0" height="3.8" fill="#555555"/>
<rect x="133.7" y="1034" width="4" height="20.0" fill="#505050"/>
<rect x="264.1" y="1034" width="4" height="12.0" fill="#505050"/>
<rect x="394.6" y="1034" width="4" height="20.0" fill="#505050"/>
<rect x="525.0" y="1034" width="4" height="12.0" fill="#505050"/>
<rect x="655.4" y="1034" width="4" height="20.0" fill="#505050"/>
<rect x="785.8" y="1034" width="4" height="12.0" fill="#505050"/>
<rect x="916.3" y="1034" width="4" height="20.0" fill="#505050"/>
<rect x="1046.7" y="1034" width="4" height="12.0" fill="#505050"/>
<rect x="1177.1" y="1034" width="4" height="20.0" fill="#505050"/>
<rect x="1307.6" y="1034" width="4" height="12.0" fill="#505050"/>
<rect x="1438.0" y="1034" width="4" height="20.0" fill="#505050"/>
<rect x="264.1" y="54" width="4" height="8.2" fill="#333333"/>
<rect x="525.0" y="54" width="4" height="8.2" fill="#333333"/>
<rect x="785.8" y="54" width="4" height="8.2" fill="#333333"/>
<rect x="1046.7" y="54" width="4" height="8.2" fill="#333333"/>
<rect x="1307.6" y="54" width="4" height="8.2" fill="#333333"/>
<text transform="translate(136.5 1113) scale(0.935 1)" font-size="66" text-anchor="middle">350</text>
<text transform="translate(397.4 1113) scale(0.935 1)" font-size="66" text-anchor="middle">400</text>
<text transform="translate(658.2 1113) scale(0.935 1)" font-size="66" text-anchor="middle">450</text>
<text transform="translate(919.1 1113) scale(0.935 1)" font-size="66" text-anchor="middle">500</text>
<text transform="translate(1179.9 1113) scale(0.935 1)" font-size="66" text-anchor="middle">550</text>
<text transform="translate(1440.8 1113) scale(0.935 1)" font-size="66" text-anchor="middle">600</text>
<text transform="translate(762 1184) scale(0.92 1)" font-size="80" text-anchor="middle" textLength="600.0" lengthAdjust="spacing">Wavelength (nm)</text>
<text transform="translate(82.5 582) rotate(-90) scale(0.9 1)" font-size="79" text-anchor="middle" textLength="415.6" lengthAdjust="spacing">Absorbance</text>
<text transform="translate(1370 607.5) rotate(-90) scale(0.92 1)" font-size="61" text-anchor="middle" textLength="693.5" lengthAdjust="spacing">increasing irradiation time</text>
<rect x="1386" y="261" width="3.6" height="668" fill="#9a9a9a"/>
<path d="M1382.3 929 L1394.1 929 L1388.2 954 Z" fill="#111"/>
</svg></div>
<svg id="cap" width="1516" height="1394" viewBox="0 0 1516 1394">
<text transform="translate(703 1356.7) scale(0.8 0.963)" font-size="88" style="fill:#000;stroke:none">(</text>
<text transform="translate(750.4 1356) scale(0.93 1)" font-size="88" font-weight="bold" text-anchor="middle" style="fill:#000;stroke:none">a</text>
<text transform="translate(797 1356.7) scale(0.8 0.963)" font-size="88" text-anchor="end" style="fill:#000;stroke:none">)</text>
</svg>
</body></html>
